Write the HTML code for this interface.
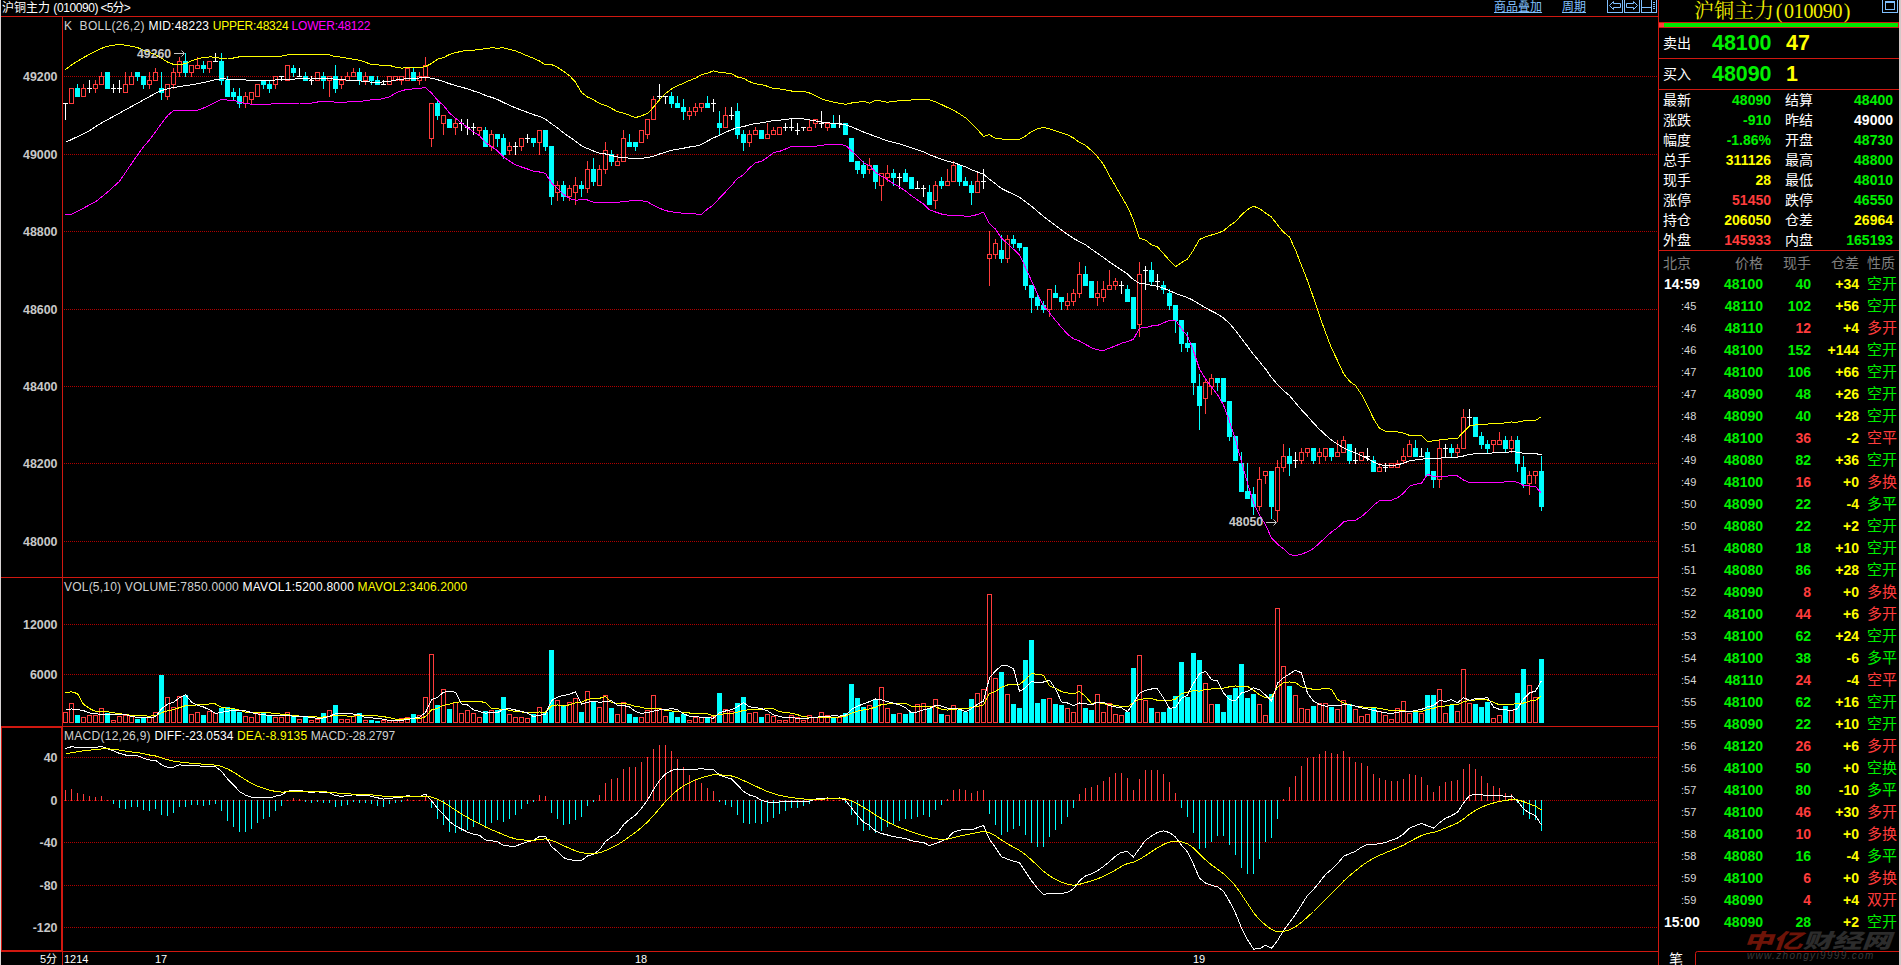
<!DOCTYPE html>
<html><head><meta charset="utf-8"><title>沪铜主力</title>
<style>
html,body{margin:0;padding:0;background:#000;}
body{width:1901px;height:965px;position:relative;overflow:hidden;font-family:"Liberation Sans","Noto Sans CJK SC",sans-serif;color:#fff;}
svg{position:absolute;left:0;top:0;}
.abs{position:absolute;white-space:nowrap;}
.ax{position:absolute;left:0;width:57.5px;text-align:right;font-weight:bold;font-size:12.4px;line-height:14px;color:#c8c8c8;}
.ind{position:absolute;left:64px;font-size:12px;line-height:14px;color:#d0d0d0;white-space:pre;transform-origin:0 0;}
.g{color:#00f000} .r{color:#ff3c3c} .y{color:#ffff00} .w{color:#fff}
.qr{position:absolute;left:1659px;width:240px;height:20px;line-height:20px;font-size:14px;}
.qr span{position:absolute;top:0;white-space:nowrap;}
.l1{left:4px;} .l2{left:126px;}
.v1{right:128px;font-weight:bold;} .v2{right:6px;font-weight:bold;}
.tr{position:absolute;left:1659px;width:242px;height:22px;line-height:22px;font-size:14px;}
.tr span{position:absolute;top:0;white-space:nowrap;}
.tb{left:5px;font-weight:bold;color:#fff;}
.ts{left:22px;font-size:11px;color:#d8d8d8;}
.pp{right:138px;font-weight:bold;}
.vv{right:90px;font-weight:bold;}
.dd{right:42px;font-weight:bold;}
.qq{left:208px;font-size:15px;}
.hd span{color:#808080;font-weight:normal;font-size:14px;}
</style></head><body>
<svg width="1901" height="965" viewBox="0 0 1901 965" shape-rendering="crispEdges">
<rect x="0" y="0" width="1901" height="965" fill="#000"/>
<g>
<line x1="64" y1="76.5" x2="1658" y2="76.5" stroke="#b00000" stroke-width="1" stroke-dasharray="1 1"/>
<line x1="64" y1="154.5" x2="1658" y2="154.5" stroke="#b00000" stroke-width="1" stroke-dasharray="1 1"/>
<line x1="64" y1="231.5" x2="1658" y2="231.5" stroke="#b00000" stroke-width="1" stroke-dasharray="1 1"/>
<line x1="64" y1="309.5" x2="1658" y2="309.5" stroke="#b00000" stroke-width="1" stroke-dasharray="1 1"/>
<line x1="64" y1="386.5" x2="1658" y2="386.5" stroke="#b00000" stroke-width="1" stroke-dasharray="1 1"/>
<line x1="64" y1="463.5" x2="1658" y2="463.5" stroke="#b00000" stroke-width="1" stroke-dasharray="1 1"/>
<line x1="64" y1="541.5" x2="1658" y2="541.5" stroke="#b00000" stroke-width="1" stroke-dasharray="1 1"/>
<line x1="64" y1="624.5" x2="1658" y2="624.5" stroke="#b00000" stroke-width="1" stroke-dasharray="1 1"/>
<line x1="64" y1="674.5" x2="1658" y2="674.5" stroke="#b00000" stroke-width="1" stroke-dasharray="1 1"/>
<line x1="64" y1="757.5" x2="1658" y2="757.5" stroke="#b00000" stroke-width="1" stroke-dasharray="1 1"/>
<line x1="64" y1="800.5" x2="1658" y2="800.5" stroke="#b00000" stroke-width="1" stroke-dasharray="1 1"/>
<line x1="64" y1="842.5" x2="1658" y2="842.5" stroke="#b00000" stroke-width="1" stroke-dasharray="1 1"/>
<line x1="64" y1="885.5" x2="1658" y2="885.5" stroke="#b00000" stroke-width="1" stroke-dasharray="1 1"/>
<line x1="64" y1="927.5" x2="1658" y2="927.5" stroke="#b00000" stroke-width="1" stroke-dasharray="1 1"/>
<rect x="65" y="103" width="1" height="17" fill="#ffffff"/>
<rect x="63" y="103" width="5" height="1" fill="#ffffff"/>
<rect x="69.5" y="88.5" width="4" height="15" fill="#000" stroke="#ff3c3c" stroke-width="1"/>
<rect x="77" y="84" width="1" height="13" fill="#00ffff"/>
<rect x="75" y="88" width="5" height="9" fill="#00ffff"/>
<rect x="83" y="84" width="1" height="4" fill="#ff3c3c"/>
<rect x="81.5" y="88.5" width="4" height="8" fill="#000" stroke="#ff3c3c" stroke-width="1"/>
<rect x="89" y="80" width="1" height="13" fill="#ffffff"/>
<rect x="87" y="88" width="5" height="1" fill="#ffffff"/>
<rect x="95" y="80" width="1" height="4" fill="#ff3c3c"/>
<rect x="95" y="89" width="1" height="4" fill="#ff3c3c"/>
<rect x="93.5" y="84.5" width="4" height="4" fill="#000" stroke="#ff3c3c" stroke-width="1"/>
<rect x="101" y="72" width="1" height="4" fill="#ff3c3c"/>
<rect x="99.5" y="76.5" width="4" height="8" fill="#000" stroke="#ff3c3c" stroke-width="1"/>
<rect x="107" y="72" width="1" height="17" fill="#00ffff"/>
<rect x="105" y="72" width="5" height="17" fill="#00ffff"/>
<rect x="113" y="84" width="1" height="9" fill="#ffffff"/>
<rect x="111" y="88" width="5" height="1" fill="#ffffff"/>
<rect x="119" y="80" width="1" height="13" fill="#ffffff"/>
<rect x="117" y="88" width="5" height="1" fill="#ffffff"/>
<rect x="125" y="72" width="1" height="12" fill="#ff3c3c"/>
<rect x="123.5" y="84.5" width="4" height="8" fill="#000" stroke="#ff3c3c" stroke-width="1"/>
<rect x="131" y="72" width="1" height="4" fill="#ff3c3c"/>
<rect x="129.5" y="76.5" width="4" height="8" fill="#000" stroke="#ff3c3c" stroke-width="1"/>
<rect x="137" y="72" width="1" height="9" fill="#00ffff"/>
<rect x="135" y="72" width="5" height="5" fill="#00ffff"/>
<rect x="143" y="76" width="1" height="13" fill="#00ffff"/>
<rect x="141" y="76" width="5" height="9" fill="#00ffff"/>
<rect x="149" y="72" width="1" height="8" fill="#ff3c3c"/>
<rect x="149" y="85" width="1" height="4" fill="#ff3c3c"/>
<rect x="147.5" y="80.5" width="4" height="4" fill="#000" stroke="#ff3c3c" stroke-width="1"/>
<rect x="155" y="68" width="1" height="4" fill="#ff3c3c"/>
<rect x="153.5" y="72.5" width="4" height="8" fill="#000" stroke="#ff3c3c" stroke-width="1"/>
<rect x="161" y="72" width="1" height="28" fill="#00ffff"/>
<rect x="159" y="88" width="5" height="5" fill="#00ffff"/>
<rect x="167" y="97" width="1" height="3" fill="#ff3c3c"/>
<rect x="165.5" y="84.5" width="4" height="12" fill="#000" stroke="#ff3c3c" stroke-width="1"/>
<rect x="173" y="68" width="1" height="4" fill="#ff3c3c"/>
<rect x="173" y="85" width="1" height="4" fill="#ff3c3c"/>
<rect x="171.5" y="72.5" width="4" height="12" fill="#000" stroke="#ff3c3c" stroke-width="1"/>
<rect x="179" y="57" width="1" height="4" fill="#ff3c3c"/>
<rect x="179" y="73" width="1" height="4" fill="#ff3c3c"/>
<rect x="177.5" y="61.5" width="4" height="11" fill="#000" stroke="#ff3c3c" stroke-width="1"/>
<rect x="185" y="53" width="1" height="24" fill="#00ffff"/>
<rect x="183" y="61" width="5" height="12" fill="#00ffff"/>
<rect x="191" y="73" width="1" height="4" fill="#ff3c3c"/>
<rect x="189.5" y="65.5" width="4" height="7" fill="#000" stroke="#ff3c3c" stroke-width="1"/>
<rect x="197" y="57" width="1" height="8" fill="#ff3c3c"/>
<rect x="195.5" y="65.5" width="4" height="3" fill="#000" stroke="#ff3c3c" stroke-width="1"/>
<rect x="203" y="61" width="1" height="12" fill="#00ffff"/>
<rect x="201" y="65" width="5" height="4" fill="#00ffff"/>
<rect x="209" y="69" width="1" height="4" fill="#ff3c3c"/>
<rect x="207.5" y="61.5" width="4" height="7" fill="#000" stroke="#ff3c3c" stroke-width="1"/>
<rect x="215" y="53" width="1" height="9" fill="#ffffff"/>
<rect x="213" y="61" width="5" height="1" fill="#ffffff"/>
<rect x="221" y="53" width="1" height="32" fill="#00ffff"/>
<rect x="219" y="61" width="5" height="20" fill="#00ffff"/>
<rect x="227" y="76" width="1" height="21" fill="#00ffff"/>
<rect x="225" y="80" width="5" height="17" fill="#00ffff"/>
<rect x="233" y="88" width="1" height="12" fill="#00ffff"/>
<rect x="231" y="92" width="5" height="5" fill="#00ffff"/>
<rect x="239" y="88" width="1" height="20" fill="#00ffff"/>
<rect x="237" y="96" width="5" height="8" fill="#00ffff"/>
<rect x="245" y="92" width="1" height="4" fill="#ff3c3c"/>
<rect x="245" y="104" width="1" height="4" fill="#ff3c3c"/>
<rect x="243.5" y="96.5" width="4" height="7" fill="#000" stroke="#ff3c3c" stroke-width="1"/>
<rect x="251" y="100" width="1" height="4" fill="#ff3c3c"/>
<rect x="249.5" y="92.5" width="4" height="7" fill="#000" stroke="#ff3c3c" stroke-width="1"/>
<rect x="255.5" y="84.5" width="4" height="12" fill="#000" stroke="#ff3c3c" stroke-width="1"/>
<rect x="263" y="80" width="1" height="9" fill="#00ffff"/>
<rect x="261" y="80" width="5" height="5" fill="#00ffff"/>
<rect x="269" y="80" width="1" height="13" fill="#00ffff"/>
<rect x="267" y="84" width="5" height="5" fill="#00ffff"/>
<rect x="275" y="85" width="1" height="4" fill="#ff3c3c"/>
<rect x="273.5" y="76.5" width="4" height="8" fill="#000" stroke="#ff3c3c" stroke-width="1"/>
<rect x="281" y="76" width="1" height="5" fill="#ffffff"/>
<rect x="279" y="76" width="5" height="1" fill="#ffffff"/>
<rect x="285.5" y="65.5" width="4" height="15" fill="#000" stroke="#ff3c3c" stroke-width="1"/>
<rect x="293" y="65" width="1" height="12" fill="#00ffff"/>
<rect x="291" y="68" width="5" height="5" fill="#00ffff"/>
<rect x="299" y="68" width="1" height="9" fill="#ffffff"/>
<rect x="297" y="76" width="5" height="1" fill="#ffffff"/>
<rect x="305" y="72" width="1" height="9" fill="#00ffff"/>
<rect x="303" y="76" width="5" height="5" fill="#00ffff"/>
<rect x="311" y="76" width="1" height="9" fill="#ffffff"/>
<rect x="309" y="80" width="5" height="1" fill="#ffffff"/>
<rect x="315.5" y="72.5" width="4" height="8" fill="#000" stroke="#ff3c3c" stroke-width="1"/>
<rect x="323" y="72" width="1" height="17" fill="#00ffff"/>
<rect x="321" y="76" width="5" height="5" fill="#00ffff"/>
<rect x="329" y="81" width="1" height="16" fill="#ff3c3c"/>
<rect x="327.5" y="76.5" width="4" height="4" fill="#000" stroke="#ff3c3c" stroke-width="1"/>
<rect x="335" y="65" width="1" height="28" fill="#00ffff"/>
<rect x="333" y="76" width="5" height="13" fill="#00ffff"/>
<rect x="341" y="76" width="1" height="4" fill="#ff3c3c"/>
<rect x="341" y="85" width="1" height="4" fill="#ff3c3c"/>
<rect x="339.5" y="80.5" width="4" height="4" fill="#000" stroke="#ff3c3c" stroke-width="1"/>
<rect x="347" y="72" width="1" height="4" fill="#ff3c3c"/>
<rect x="345.5" y="76.5" width="4" height="4" fill="#000" stroke="#ff3c3c" stroke-width="1"/>
<rect x="353" y="68" width="1" height="4" fill="#ff3c3c"/>
<rect x="351.5" y="72.5" width="4" height="4" fill="#000" stroke="#ff3c3c" stroke-width="1"/>
<rect x="359" y="68" width="1" height="17" fill="#00ffff"/>
<rect x="357" y="72" width="5" height="9" fill="#00ffff"/>
<rect x="365" y="72" width="1" height="4" fill="#ff3c3c"/>
<rect x="365" y="81" width="1" height="4" fill="#ff3c3c"/>
<rect x="363.5" y="76.5" width="4" height="4" fill="#000" stroke="#ff3c3c" stroke-width="1"/>
<rect x="371" y="76" width="1" height="9" fill="#00ffff"/>
<rect x="369" y="76" width="5" height="5" fill="#00ffff"/>
<rect x="377" y="76" width="1" height="9" fill="#00ffff"/>
<rect x="375" y="80" width="5" height="5" fill="#00ffff"/>
<rect x="383" y="80" width="1" height="5" fill="#ffffff"/>
<rect x="381" y="84" width="5" height="1" fill="#ffffff"/>
<rect x="387.5" y="76.5" width="4" height="8" fill="#000" stroke="#ff3c3c" stroke-width="1"/>
<rect x="393.5" y="76.5" width="4" height="4" fill="#000" stroke="#ff3c3c" stroke-width="1"/>
<rect x="401" y="81" width="1" height="4" fill="#ff3c3c"/>
<rect x="399.5" y="76.5" width="4" height="4" fill="#000" stroke="#ff3c3c" stroke-width="1"/>
<rect x="405.5" y="68.5" width="4" height="12" fill="#000" stroke="#ff3c3c" stroke-width="1"/>
<rect x="413" y="68" width="1" height="13" fill="#00ffff"/>
<rect x="411" y="72" width="5" height="9" fill="#00ffff"/>
<rect x="419" y="72" width="1" height="4" fill="#ff3c3c"/>
<rect x="419" y="81" width="1" height="4" fill="#ff3c3c"/>
<rect x="417.5" y="76.5" width="4" height="4" fill="#000" stroke="#ff3c3c" stroke-width="1"/>
<rect x="425" y="57" width="1" height="8" fill="#ff3c3c"/>
<rect x="425" y="77" width="1" height="4" fill="#ff3c3c"/>
<rect x="423.5" y="65.5" width="4" height="11" fill="#000" stroke="#ff3c3c" stroke-width="1"/>
<rect x="431" y="139" width="1" height="8" fill="#ff3c3c"/>
<rect x="429.5" y="103.5" width="4" height="35" fill="#000" stroke="#ff3c3c" stroke-width="1"/>
<rect x="437" y="99" width="1" height="21" fill="#00ffff"/>
<rect x="435" y="103" width="5" height="13" fill="#00ffff"/>
<rect x="443" y="124" width="1" height="11" fill="#ff3c3c"/>
<rect x="441.5" y="115.5" width="4" height="8" fill="#000" stroke="#ff3c3c" stroke-width="1"/>
<rect x="449" y="119" width="1" height="9" fill="#00ffff"/>
<rect x="447" y="119" width="5" height="9" fill="#00ffff"/>
<rect x="455" y="119" width="1" height="4" fill="#ff3c3c"/>
<rect x="455" y="128" width="1" height="7" fill="#ff3c3c"/>
<rect x="453.5" y="123.5" width="4" height="4" fill="#000" stroke="#ff3c3c" stroke-width="1"/>
<rect x="461" y="119" width="1" height="12" fill="#ffffff"/>
<rect x="459" y="123" width="5" height="1" fill="#ffffff"/>
<rect x="467" y="119" width="1" height="16" fill="#ffffff"/>
<rect x="465" y="127" width="5" height="1" fill="#ffffff"/>
<rect x="473" y="123" width="1" height="12" fill="#ffffff"/>
<rect x="471" y="127" width="5" height="1" fill="#ffffff"/>
<rect x="479" y="131" width="1" height="4" fill="#ff3c3c"/>
<rect x="477.5" y="127.5" width="4" height="3" fill="#000" stroke="#ff3c3c" stroke-width="1"/>
<rect x="485" y="127" width="1" height="20" fill="#00ffff"/>
<rect x="483" y="130" width="5" height="17" fill="#00ffff"/>
<rect x="491" y="130" width="1" height="4" fill="#ff3c3c"/>
<rect x="491" y="147" width="1" height="4" fill="#ff3c3c"/>
<rect x="489.5" y="134.5" width="4" height="12" fill="#000" stroke="#ff3c3c" stroke-width="1"/>
<rect x="497" y="134" width="1" height="13" fill="#00ffff"/>
<rect x="495" y="134" width="5" height="5" fill="#00ffff"/>
<rect x="503" y="134" width="1" height="25" fill="#00ffff"/>
<rect x="501" y="138" width="5" height="17" fill="#00ffff"/>
<rect x="509" y="142" width="1" height="4" fill="#ff3c3c"/>
<rect x="509" y="151" width="1" height="4" fill="#ff3c3c"/>
<rect x="507.5" y="146.5" width="4" height="4" fill="#000" stroke="#ff3c3c" stroke-width="1"/>
<rect x="515" y="142" width="1" height="13" fill="#ffffff"/>
<rect x="513" y="146" width="5" height="1" fill="#ffffff"/>
<rect x="521" y="147" width="1" height="4" fill="#ff3c3c"/>
<rect x="519.5" y="138.5" width="4" height="8" fill="#000" stroke="#ff3c3c" stroke-width="1"/>
<rect x="527" y="134" width="1" height="9" fill="#ffffff"/>
<rect x="525" y="138" width="5" height="1" fill="#ffffff"/>
<rect x="533" y="138" width="1" height="9" fill="#00ffff"/>
<rect x="531" y="138" width="5" height="5" fill="#00ffff"/>
<rect x="539" y="143" width="1" height="12" fill="#ff3c3c"/>
<rect x="537.5" y="130.5" width="4" height="12" fill="#000" stroke="#ff3c3c" stroke-width="1"/>
<rect x="545" y="130" width="1" height="21" fill="#00ffff"/>
<rect x="543" y="130" width="5" height="17" fill="#00ffff"/>
<rect x="551" y="146" width="1" height="59" fill="#00ffff"/>
<rect x="549" y="146" width="5" height="51" fill="#00ffff"/>
<rect x="557" y="181" width="1" height="4" fill="#ff3c3c"/>
<rect x="557" y="193" width="1" height="8" fill="#ff3c3c"/>
<rect x="555.5" y="185.5" width="4" height="7" fill="#000" stroke="#ff3c3c" stroke-width="1"/>
<rect x="563" y="181" width="1" height="20" fill="#00ffff"/>
<rect x="561" y="185" width="5" height="12" fill="#00ffff"/>
<rect x="569" y="185" width="1" height="3" fill="#ff3c3c"/>
<rect x="569" y="197" width="1" height="4" fill="#ff3c3c"/>
<rect x="567.5" y="188.5" width="4" height="8" fill="#000" stroke="#ff3c3c" stroke-width="1"/>
<rect x="575" y="177" width="1" height="8" fill="#ff3c3c"/>
<rect x="575" y="193" width="1" height="12" fill="#ff3c3c"/>
<rect x="573.5" y="185.5" width="4" height="7" fill="#000" stroke="#ff3c3c" stroke-width="1"/>
<rect x="581" y="181" width="1" height="16" fill="#00ffff"/>
<rect x="579" y="185" width="5" height="4" fill="#00ffff"/>
<rect x="587" y="161" width="1" height="8" fill="#ff3c3c"/>
<rect x="587" y="189" width="1" height="4" fill="#ff3c3c"/>
<rect x="585.5" y="169.5" width="4" height="19" fill="#000" stroke="#ff3c3c" stroke-width="1"/>
<rect x="593" y="158" width="1" height="28" fill="#00ffff"/>
<rect x="591" y="169" width="5" height="13" fill="#00ffff"/>
<rect x="599" y="165" width="1" height="4" fill="#ff3c3c"/>
<rect x="597.5" y="169.5" width="4" height="16" fill="#000" stroke="#ff3c3c" stroke-width="1"/>
<rect x="605" y="142" width="1" height="8" fill="#ff3c3c"/>
<rect x="605" y="170" width="1" height="4" fill="#ff3c3c"/>
<rect x="603.5" y="150.5" width="4" height="19" fill="#000" stroke="#ff3c3c" stroke-width="1"/>
<rect x="611" y="150" width="1" height="16" fill="#00ffff"/>
<rect x="609" y="154" width="5" height="8" fill="#00ffff"/>
<rect x="617" y="154" width="1" height="7" fill="#ff3c3c"/>
<rect x="615.5" y="161.5" width="4" height="4" fill="#000" stroke="#ff3c3c" stroke-width="1"/>
<rect x="623" y="130" width="1" height="8" fill="#ff3c3c"/>
<rect x="621.5" y="138.5" width="4" height="23" fill="#000" stroke="#ff3c3c" stroke-width="1"/>
<rect x="629" y="134" width="1" height="13" fill="#00ffff"/>
<rect x="627" y="142" width="5" height="5" fill="#00ffff"/>
<rect x="635" y="142" width="1" height="9" fill="#00ffff"/>
<rect x="633" y="142" width="5" height="5" fill="#00ffff"/>
<rect x="639.5" y="130.5" width="4" height="12" fill="#000" stroke="#ff3c3c" stroke-width="1"/>
<rect x="647" y="135" width="1" height="4" fill="#ff3c3c"/>
<rect x="645.5" y="119.5" width="4" height="15" fill="#000" stroke="#ff3c3c" stroke-width="1"/>
<rect x="653" y="96" width="1" height="3" fill="#ff3c3c"/>
<rect x="651.5" y="99.5" width="4" height="20" fill="#000" stroke="#ff3c3c" stroke-width="1"/>
<rect x="659" y="84" width="1" height="16" fill="#ffffff"/>
<rect x="657" y="96" width="5" height="1" fill="#ffffff"/>
<rect x="665" y="96" width="1" height="8" fill="#ffffff"/>
<rect x="663" y="96" width="5" height="1" fill="#ffffff"/>
<rect x="671" y="92" width="1" height="16" fill="#00ffff"/>
<rect x="669" y="96" width="5" height="8" fill="#00ffff"/>
<rect x="677" y="96" width="1" height="12" fill="#00ffff"/>
<rect x="675" y="103" width="5" height="5" fill="#00ffff"/>
<rect x="683" y="99" width="1" height="21" fill="#00ffff"/>
<rect x="681" y="107" width="5" height="5" fill="#00ffff"/>
<rect x="689" y="107" width="1" height="4" fill="#ff3c3c"/>
<rect x="689" y="116" width="1" height="4" fill="#ff3c3c"/>
<rect x="687.5" y="111.5" width="4" height="4" fill="#000" stroke="#ff3c3c" stroke-width="1"/>
<rect x="695" y="103" width="1" height="4" fill="#ff3c3c"/>
<rect x="695" y="112" width="1" height="4" fill="#ff3c3c"/>
<rect x="693.5" y="107.5" width="4" height="4" fill="#000" stroke="#ff3c3c" stroke-width="1"/>
<rect x="701" y="108" width="1" height="4" fill="#ff3c3c"/>
<rect x="699.5" y="103.5" width="4" height="4" fill="#000" stroke="#ff3c3c" stroke-width="1"/>
<rect x="707" y="96" width="1" height="12" fill="#00ffff"/>
<rect x="705" y="103" width="5" height="5" fill="#00ffff"/>
<rect x="713" y="99" width="1" height="13" fill="#ffffff"/>
<rect x="711" y="103" width="5" height="1" fill="#ffffff"/>
<rect x="719" y="111" width="1" height="24" fill="#00ffff"/>
<rect x="717" y="123" width="5" height="5" fill="#00ffff"/>
<rect x="725" y="107" width="1" height="8" fill="#ff3c3c"/>
<rect x="723.5" y="115.5" width="4" height="12" fill="#000" stroke="#ff3c3c" stroke-width="1"/>
<rect x="731" y="107" width="1" height="13" fill="#ffffff"/>
<rect x="729" y="115" width="5" height="1" fill="#ffffff"/>
<rect x="737" y="103" width="1" height="36" fill="#00ffff"/>
<rect x="735" y="111" width="5" height="24" fill="#00ffff"/>
<rect x="743" y="130" width="1" height="21" fill="#00ffff"/>
<rect x="741" y="134" width="5" height="9" fill="#00ffff"/>
<rect x="749" y="130" width="1" height="4" fill="#ff3c3c"/>
<rect x="749" y="143" width="1" height="4" fill="#ff3c3c"/>
<rect x="747.5" y="134.5" width="4" height="8" fill="#000" stroke="#ff3c3c" stroke-width="1"/>
<rect x="755" y="127" width="1" height="3" fill="#ff3c3c"/>
<rect x="753.5" y="130.5" width="4" height="4" fill="#000" stroke="#ff3c3c" stroke-width="1"/>
<rect x="761" y="130" width="1" height="9" fill="#00ffff"/>
<rect x="759" y="130" width="5" height="9" fill="#00ffff"/>
<rect x="767" y="123" width="1" height="11" fill="#ff3c3c"/>
<rect x="765.5" y="134.5" width="4" height="4" fill="#000" stroke="#ff3c3c" stroke-width="1"/>
<rect x="773" y="127" width="1" height="3" fill="#ff3c3c"/>
<rect x="771.5" y="130.5" width="4" height="4" fill="#000" stroke="#ff3c3c" stroke-width="1"/>
<rect x="777.5" y="127.5" width="4" height="7" fill="#000" stroke="#ff3c3c" stroke-width="1"/>
<rect x="785" y="123" width="1" height="8" fill="#ffffff"/>
<rect x="783" y="127" width="5" height="1" fill="#ffffff"/>
<rect x="791" y="119" width="1" height="12" fill="#ffffff"/>
<rect x="789" y="127" width="5" height="1" fill="#ffffff"/>
<rect x="797" y="123" width="1" height="12" fill="#ffffff"/>
<rect x="795" y="130" width="5" height="1" fill="#ffffff"/>
<rect x="803" y="127" width="1" height="4" fill="#ffffff"/>
<rect x="801" y="127" width="5" height="1" fill="#ffffff"/>
<rect x="809" y="119" width="1" height="8" fill="#ff3c3c"/>
<rect x="807.5" y="127.5" width="4" height="3" fill="#000" stroke="#ff3c3c" stroke-width="1"/>
<rect x="815" y="124" width="1" height="4" fill="#ff3c3c"/>
<rect x="813.5" y="119.5" width="4" height="4" fill="#000" stroke="#ff3c3c" stroke-width="1"/>
<rect x="821" y="111" width="1" height="17" fill="#ffffff"/>
<rect x="819" y="123" width="5" height="1" fill="#ffffff"/>
<rect x="827" y="128" width="1" height="3" fill="#ff3c3c"/>
<rect x="825.5" y="123.5" width="4" height="4" fill="#000" stroke="#ff3c3c" stroke-width="1"/>
<rect x="833" y="115" width="1" height="13" fill="#00ffff"/>
<rect x="831" y="123" width="5" height="5" fill="#00ffff"/>
<rect x="839" y="115" width="1" height="13" fill="#ffffff"/>
<rect x="837" y="123" width="5" height="1" fill="#ffffff"/>
<rect x="845" y="123" width="1" height="12" fill="#00ffff"/>
<rect x="843" y="123" width="5" height="12" fill="#00ffff"/>
<rect x="851" y="138" width="1" height="24" fill="#00ffff"/>
<rect x="849" y="138" width="5" height="24" fill="#00ffff"/>
<rect x="857" y="161" width="1" height="13" fill="#00ffff"/>
<rect x="855" y="161" width="5" height="9" fill="#00ffff"/>
<rect x="863" y="161" width="1" height="17" fill="#00ffff"/>
<rect x="861" y="165" width="5" height="9" fill="#00ffff"/>
<rect x="869" y="158" width="1" height="7" fill="#ff3c3c"/>
<rect x="869" y="170" width="1" height="4" fill="#ff3c3c"/>
<rect x="867.5" y="165.5" width="4" height="4" fill="#000" stroke="#ff3c3c" stroke-width="1"/>
<rect x="875" y="165" width="1" height="24" fill="#00ffff"/>
<rect x="873" y="165" width="5" height="17" fill="#00ffff"/>
<rect x="881" y="186" width="1" height="15" fill="#ff3c3c"/>
<rect x="879.5" y="173.5" width="4" height="12" fill="#000" stroke="#ff3c3c" stroke-width="1"/>
<rect x="887" y="165" width="1" height="8" fill="#ff3c3c"/>
<rect x="887" y="178" width="1" height="4" fill="#ff3c3c"/>
<rect x="885.5" y="173.5" width="4" height="4" fill="#000" stroke="#ff3c3c" stroke-width="1"/>
<rect x="893" y="169" width="1" height="17" fill="#00ffff"/>
<rect x="891" y="173" width="5" height="5" fill="#00ffff"/>
<rect x="899" y="173" width="1" height="16" fill="#ffffff"/>
<rect x="897" y="177" width="5" height="1" fill="#ffffff"/>
<rect x="905" y="169" width="1" height="13" fill="#00ffff"/>
<rect x="903" y="173" width="5" height="9" fill="#00ffff"/>
<rect x="911" y="177" width="1" height="12" fill="#00ffff"/>
<rect x="909" y="177" width="5" height="12" fill="#00ffff"/>
<rect x="917" y="181" width="1" height="8" fill="#ffffff"/>
<rect x="915" y="188" width="5" height="1" fill="#ffffff"/>
<rect x="923" y="185" width="1" height="12" fill="#ffffff"/>
<rect x="921" y="188" width="5" height="1" fill="#ffffff"/>
<rect x="929" y="185" width="1" height="20" fill="#00ffff"/>
<rect x="927" y="192" width="5" height="13" fill="#00ffff"/>
<rect x="935" y="181" width="1" height="4" fill="#ff3c3c"/>
<rect x="935" y="201" width="1" height="8" fill="#ff3c3c"/>
<rect x="933.5" y="185.5" width="4" height="15" fill="#000" stroke="#ff3c3c" stroke-width="1"/>
<rect x="941" y="177" width="1" height="12" fill="#00ffff"/>
<rect x="939" y="181" width="5" height="5" fill="#00ffff"/>
<rect x="947" y="169" width="1" height="12" fill="#ff3c3c"/>
<rect x="945.5" y="181.5" width="4" height="4" fill="#000" stroke="#ff3c3c" stroke-width="1"/>
<rect x="953" y="161" width="1" height="4" fill="#ff3c3c"/>
<rect x="951.5" y="165.5" width="4" height="16" fill="#000" stroke="#ff3c3c" stroke-width="1"/>
<rect x="959" y="165" width="1" height="21" fill="#00ffff"/>
<rect x="957" y="165" width="5" height="17" fill="#00ffff"/>
<rect x="965" y="177" width="1" height="9" fill="#00ffff"/>
<rect x="963" y="181" width="5" height="5" fill="#00ffff"/>
<rect x="971" y="181" width="1" height="24" fill="#00ffff"/>
<rect x="969" y="185" width="5" height="8" fill="#00ffff"/>
<rect x="977" y="173" width="1" height="8" fill="#ff3c3c"/>
<rect x="975.5" y="181.5" width="4" height="11" fill="#000" stroke="#ff3c3c" stroke-width="1"/>
<rect x="983" y="169" width="1" height="20" fill="#ffffff"/>
<rect x="981" y="181" width="5" height="1" fill="#ffffff"/>
<rect x="989" y="231" width="1" height="23" fill="#ff3c3c"/>
<rect x="989" y="259" width="1" height="27" fill="#ff3c3c"/>
<rect x="987.5" y="254.5" width="4" height="4" fill="#000" stroke="#ff3c3c" stroke-width="1"/>
<rect x="995" y="239" width="1" height="4" fill="#ff3c3c"/>
<rect x="995" y="255" width="1" height="4" fill="#ff3c3c"/>
<rect x="993.5" y="243.5" width="4" height="11" fill="#000" stroke="#ff3c3c" stroke-width="1"/>
<rect x="1001" y="235" width="1" height="28" fill="#00ffff"/>
<rect x="999" y="250" width="5" height="9" fill="#00ffff"/>
<rect x="1007" y="235" width="1" height="4" fill="#ff3c3c"/>
<rect x="1007" y="259" width="1" height="4" fill="#ff3c3c"/>
<rect x="1005.5" y="239.5" width="4" height="19" fill="#000" stroke="#ff3c3c" stroke-width="1"/>
<rect x="1013" y="235" width="1" height="13" fill="#00ffff"/>
<rect x="1011" y="239" width="5" height="5" fill="#00ffff"/>
<rect x="1019" y="243" width="1" height="8" fill="#00ffff"/>
<rect x="1017" y="243" width="5" height="5" fill="#00ffff"/>
<rect x="1025" y="247" width="1" height="43" fill="#00ffff"/>
<rect x="1023" y="247" width="5" height="39" fill="#00ffff"/>
<rect x="1031" y="285" width="1" height="28" fill="#00ffff"/>
<rect x="1029" y="285" width="5" height="13" fill="#00ffff"/>
<rect x="1037" y="293" width="1" height="17" fill="#00ffff"/>
<rect x="1035" y="297" width="5" height="9" fill="#00ffff"/>
<rect x="1043" y="301" width="1" height="12" fill="#00ffff"/>
<rect x="1041" y="305" width="5" height="5" fill="#00ffff"/>
<rect x="1049" y="310" width="1" height="7" fill="#ff3c3c"/>
<rect x="1047.5" y="289.5" width="4" height="20" fill="#000" stroke="#ff3c3c" stroke-width="1"/>
<rect x="1055" y="285" width="1" height="13" fill="#00ffff"/>
<rect x="1053" y="293" width="5" height="5" fill="#00ffff"/>
<rect x="1061" y="297" width="1" height="13" fill="#00ffff"/>
<rect x="1059" y="297" width="5" height="5" fill="#00ffff"/>
<rect x="1067" y="293" width="1" height="8" fill="#ff3c3c"/>
<rect x="1067" y="306" width="1" height="4" fill="#ff3c3c"/>
<rect x="1065.5" y="301.5" width="4" height="4" fill="#000" stroke="#ff3c3c" stroke-width="1"/>
<rect x="1073" y="289" width="1" height="4" fill="#ff3c3c"/>
<rect x="1073" y="302" width="1" height="4" fill="#ff3c3c"/>
<rect x="1071.5" y="293.5" width="4" height="8" fill="#000" stroke="#ff3c3c" stroke-width="1"/>
<rect x="1079" y="262" width="1" height="12" fill="#ff3c3c"/>
<rect x="1079" y="294" width="1" height="4" fill="#ff3c3c"/>
<rect x="1077.5" y="274.5" width="4" height="19" fill="#000" stroke="#ff3c3c" stroke-width="1"/>
<rect x="1085" y="266" width="1" height="20" fill="#00ffff"/>
<rect x="1083" y="274" width="5" height="12" fill="#00ffff"/>
<rect x="1091" y="281" width="1" height="17" fill="#00ffff"/>
<rect x="1089" y="281" width="5" height="17" fill="#00ffff"/>
<rect x="1097" y="281" width="1" height="12" fill="#ff3c3c"/>
<rect x="1097" y="298" width="1" height="8" fill="#ff3c3c"/>
<rect x="1095.5" y="293.5" width="4" height="4" fill="#000" stroke="#ff3c3c" stroke-width="1"/>
<rect x="1103" y="281" width="1" height="8" fill="#ff3c3c"/>
<rect x="1103" y="298" width="1" height="4" fill="#ff3c3c"/>
<rect x="1101.5" y="289.5" width="4" height="8" fill="#000" stroke="#ff3c3c" stroke-width="1"/>
<rect x="1109" y="270" width="1" height="15" fill="#ff3c3c"/>
<rect x="1107.5" y="285.5" width="4" height="4" fill="#000" stroke="#ff3c3c" stroke-width="1"/>
<rect x="1115" y="278" width="1" height="3" fill="#ff3c3c"/>
<rect x="1115" y="286" width="1" height="4" fill="#ff3c3c"/>
<rect x="1113.5" y="281.5" width="4" height="4" fill="#000" stroke="#ff3c3c" stroke-width="1"/>
<rect x="1121" y="281" width="1" height="13" fill="#ffffff"/>
<rect x="1119" y="285" width="5" height="1" fill="#ffffff"/>
<rect x="1127" y="285" width="1" height="17" fill="#00ffff"/>
<rect x="1125" y="289" width="5" height="13" fill="#00ffff"/>
<rect x="1133" y="297" width="1" height="32" fill="#00ffff"/>
<rect x="1131" y="297" width="5" height="32" fill="#00ffff"/>
<rect x="1139" y="262" width="1" height="12" fill="#ff3c3c"/>
<rect x="1139" y="325" width="1" height="12" fill="#ff3c3c"/>
<rect x="1137.5" y="274.5" width="4" height="50" fill="#000" stroke="#ff3c3c" stroke-width="1"/>
<rect x="1145" y="266" width="1" height="24" fill="#ffffff"/>
<rect x="1143" y="270" width="5" height="1" fill="#ffffff"/>
<rect x="1151" y="262" width="1" height="24" fill="#00ffff"/>
<rect x="1149" y="270" width="5" height="12" fill="#00ffff"/>
<rect x="1157" y="274" width="1" height="16" fill="#ffffff"/>
<rect x="1155" y="281" width="5" height="1" fill="#ffffff"/>
<rect x="1163" y="281" width="1" height="13" fill="#00ffff"/>
<rect x="1161" y="285" width="5" height="5" fill="#00ffff"/>
<rect x="1169" y="289" width="1" height="21" fill="#00ffff"/>
<rect x="1167" y="293" width="5" height="13" fill="#00ffff"/>
<rect x="1175" y="305" width="1" height="28" fill="#00ffff"/>
<rect x="1173" y="305" width="5" height="16" fill="#00ffff"/>
<rect x="1181" y="320" width="1" height="32" fill="#00ffff"/>
<rect x="1179" y="320" width="5" height="24" fill="#00ffff"/>
<rect x="1187" y="332" width="1" height="20" fill="#00ffff"/>
<rect x="1185" y="343" width="5" height="5" fill="#00ffff"/>
<rect x="1193" y="343" width="1" height="52" fill="#00ffff"/>
<rect x="1191" y="343" width="5" height="40" fill="#00ffff"/>
<rect x="1199" y="374" width="1" height="56" fill="#00ffff"/>
<rect x="1197" y="386" width="5" height="20" fill="#00ffff"/>
<rect x="1205" y="378" width="1" height="4" fill="#ff3c3c"/>
<rect x="1205" y="399" width="1" height="15" fill="#ff3c3c"/>
<rect x="1203.5" y="382.5" width="4" height="16" fill="#000" stroke="#ff3c3c" stroke-width="1"/>
<rect x="1211" y="374" width="1" height="4" fill="#ff3c3c"/>
<rect x="1211" y="387" width="1" height="8" fill="#ff3c3c"/>
<rect x="1209.5" y="378.5" width="4" height="8" fill="#000" stroke="#ff3c3c" stroke-width="1"/>
<rect x="1217" y="378" width="1" height="13" fill="#00ffff"/>
<rect x="1215" y="378" width="5" height="5" fill="#00ffff"/>
<rect x="1223" y="378" width="1" height="24" fill="#00ffff"/>
<rect x="1221" y="378" width="5" height="24" fill="#00ffff"/>
<rect x="1229" y="401" width="1" height="40" fill="#00ffff"/>
<rect x="1227" y="401" width="5" height="36" fill="#00ffff"/>
<rect x="1235" y="436" width="1" height="25" fill="#00ffff"/>
<rect x="1233" y="436" width="5" height="25" fill="#00ffff"/>
<rect x="1241" y="452" width="1" height="40" fill="#00ffff"/>
<rect x="1239" y="463" width="5" height="29" fill="#00ffff"/>
<rect x="1247" y="463" width="1" height="36" fill="#00ffff"/>
<rect x="1245" y="491" width="5" height="8" fill="#00ffff"/>
<rect x="1253" y="487" width="1" height="28" fill="#00ffff"/>
<rect x="1251" y="494" width="5" height="13" fill="#00ffff"/>
<rect x="1259" y="467" width="1" height="12" fill="#ff3c3c"/>
<rect x="1259" y="507" width="1" height="4" fill="#ff3c3c"/>
<rect x="1257.5" y="479.5" width="4" height="27" fill="#000" stroke="#ff3c3c" stroke-width="1"/>
<rect x="1265" y="476" width="1" height="8" fill="#ff3c3c"/>
<rect x="1263.5" y="471.5" width="4" height="4" fill="#000" stroke="#ff3c3c" stroke-width="1"/>
<rect x="1271" y="471" width="1" height="48" fill="#00ffff"/>
<rect x="1269" y="471" width="5" height="36" fill="#00ffff"/>
<rect x="1277" y="460" width="1" height="7" fill="#ff3c3c"/>
<rect x="1277" y="511" width="1" height="11" fill="#ff3c3c"/>
<rect x="1275.5" y="467.5" width="4" height="43" fill="#000" stroke="#ff3c3c" stroke-width="1"/>
<rect x="1283" y="444" width="1" height="12" fill="#ff3c3c"/>
<rect x="1283" y="468" width="1" height="4" fill="#ff3c3c"/>
<rect x="1281.5" y="456.5" width="4" height="11" fill="#000" stroke="#ff3c3c" stroke-width="1"/>
<rect x="1289" y="448" width="1" height="28" fill="#00ffff"/>
<rect x="1287" y="456" width="5" height="8" fill="#00ffff"/>
<rect x="1295" y="452" width="1" height="16" fill="#ffffff"/>
<rect x="1293" y="460" width="5" height="1" fill="#ffffff"/>
<rect x="1301" y="448" width="1" height="4" fill="#ff3c3c"/>
<rect x="1301" y="461" width="1" height="3" fill="#ff3c3c"/>
<rect x="1299.5" y="452.5" width="4" height="8" fill="#000" stroke="#ff3c3c" stroke-width="1"/>
<rect x="1307" y="453" width="1" height="4" fill="#ff3c3c"/>
<rect x="1305.5" y="448.5" width="4" height="4" fill="#000" stroke="#ff3c3c" stroke-width="1"/>
<rect x="1313" y="448" width="1" height="16" fill="#00ffff"/>
<rect x="1311" y="448" width="5" height="13" fill="#00ffff"/>
<rect x="1319" y="448" width="1" height="4" fill="#ff3c3c"/>
<rect x="1319" y="457" width="1" height="7" fill="#ff3c3c"/>
<rect x="1317.5" y="452.5" width="4" height="4" fill="#000" stroke="#ff3c3c" stroke-width="1"/>
<rect x="1325" y="457" width="1" height="4" fill="#ff3c3c"/>
<rect x="1323.5" y="448.5" width="4" height="8" fill="#000" stroke="#ff3c3c" stroke-width="1"/>
<rect x="1331" y="448" width="1" height="13" fill="#00ffff"/>
<rect x="1329" y="448" width="5" height="9" fill="#00ffff"/>
<rect x="1337" y="440" width="1" height="12" fill="#ff3c3c"/>
<rect x="1335.5" y="452.5" width="4" height="4" fill="#000" stroke="#ff3c3c" stroke-width="1"/>
<rect x="1343" y="436" width="1" height="4" fill="#ff3c3c"/>
<rect x="1341.5" y="440.5" width="4" height="12" fill="#000" stroke="#ff3c3c" stroke-width="1"/>
<rect x="1349" y="444" width="1" height="20" fill="#00ffff"/>
<rect x="1347" y="444" width="5" height="17" fill="#00ffff"/>
<rect x="1355" y="448" width="1" height="16" fill="#ffffff"/>
<rect x="1353" y="460" width="5" height="1" fill="#ffffff"/>
<rect x="1359.5" y="452.5" width="4" height="8" fill="#000" stroke="#ff3c3c" stroke-width="1"/>
<rect x="1367" y="448" width="1" height="13" fill="#ffffff"/>
<rect x="1365" y="456" width="5" height="1" fill="#ffffff"/>
<rect x="1373" y="456" width="1" height="16" fill="#00ffff"/>
<rect x="1371" y="460" width="5" height="12" fill="#00ffff"/>
<rect x="1379" y="463" width="1" height="4" fill="#ff3c3c"/>
<rect x="1377.5" y="467.5" width="4" height="4" fill="#000" stroke="#ff3c3c" stroke-width="1"/>
<rect x="1385" y="463" width="1" height="9" fill="#ffffff"/>
<rect x="1383" y="467" width="5" height="1" fill="#ffffff"/>
<rect x="1389.5" y="463.5" width="4" height="4" fill="#000" stroke="#ff3c3c" stroke-width="1"/>
<rect x="1397" y="460" width="1" height="3" fill="#ff3c3c"/>
<rect x="1395.5" y="463.5" width="4" height="4" fill="#000" stroke="#ff3c3c" stroke-width="1"/>
<rect x="1403" y="448" width="1" height="8" fill="#ff3c3c"/>
<rect x="1403" y="461" width="1" height="3" fill="#ff3c3c"/>
<rect x="1401.5" y="456.5" width="4" height="4" fill="#000" stroke="#ff3c3c" stroke-width="1"/>
<rect x="1409" y="440" width="1" height="4" fill="#ff3c3c"/>
<rect x="1407.5" y="444.5" width="4" height="12" fill="#000" stroke="#ff3c3c" stroke-width="1"/>
<rect x="1415" y="440" width="1" height="17" fill="#00ffff"/>
<rect x="1413" y="448" width="5" height="9" fill="#00ffff"/>
<rect x="1421" y="448" width="1" height="9" fill="#ffffff"/>
<rect x="1419" y="456" width="5" height="1" fill="#ffffff"/>
<rect x="1427" y="448" width="1" height="28" fill="#00ffff"/>
<rect x="1425" y="452" width="5" height="24" fill="#00ffff"/>
<rect x="1433" y="471" width="1" height="17" fill="#00ffff"/>
<rect x="1431" y="471" width="5" height="9" fill="#00ffff"/>
<rect x="1439" y="440" width="1" height="8" fill="#ff3c3c"/>
<rect x="1439" y="480" width="1" height="8" fill="#ff3c3c"/>
<rect x="1437.5" y="448.5" width="4" height="31" fill="#000" stroke="#ff3c3c" stroke-width="1"/>
<rect x="1445" y="444" width="1" height="13" fill="#ffffff"/>
<rect x="1443" y="448" width="5" height="1" fill="#ffffff"/>
<rect x="1451" y="444" width="1" height="13" fill="#00ffff"/>
<rect x="1449" y="448" width="5" height="5" fill="#00ffff"/>
<rect x="1457" y="444" width="1" height="4" fill="#ff3c3c"/>
<rect x="1457" y="453" width="1" height="4" fill="#ff3c3c"/>
<rect x="1455.5" y="448.5" width="4" height="4" fill="#000" stroke="#ff3c3c" stroke-width="1"/>
<rect x="1463" y="409" width="1" height="8" fill="#ff3c3c"/>
<rect x="1461.5" y="417.5" width="4" height="31" fill="#000" stroke="#ff3c3c" stroke-width="1"/>
<rect x="1469" y="409" width="1" height="17" fill="#ffffff"/>
<rect x="1467" y="417" width="5" height="1" fill="#ffffff"/>
<rect x="1475" y="417" width="1" height="20" fill="#00ffff"/>
<rect x="1473" y="417" width="5" height="20" fill="#00ffff"/>
<rect x="1481" y="432" width="1" height="17" fill="#00ffff"/>
<rect x="1479" y="436" width="5" height="9" fill="#00ffff"/>
<rect x="1487" y="440" width="1" height="13" fill="#00ffff"/>
<rect x="1485" y="444" width="5" height="5" fill="#00ffff"/>
<rect x="1493" y="445" width="1" height="8" fill="#ff3c3c"/>
<rect x="1491.5" y="440.5" width="4" height="4" fill="#000" stroke="#ff3c3c" stroke-width="1"/>
<rect x="1499" y="432" width="1" height="8" fill="#ff3c3c"/>
<rect x="1497.5" y="440.5" width="4" height="4" fill="#000" stroke="#ff3c3c" stroke-width="1"/>
<rect x="1505" y="436" width="1" height="17" fill="#00ffff"/>
<rect x="1503" y="440" width="5" height="9" fill="#00ffff"/>
<rect x="1511" y="436" width="1" height="4" fill="#ff3c3c"/>
<rect x="1511" y="449" width="1" height="4" fill="#ff3c3c"/>
<rect x="1509.5" y="440.5" width="4" height="8" fill="#000" stroke="#ff3c3c" stroke-width="1"/>
<rect x="1517" y="436" width="1" height="36" fill="#00ffff"/>
<rect x="1515" y="440" width="5" height="24" fill="#00ffff"/>
<rect x="1523" y="456" width="1" height="32" fill="#00ffff"/>
<rect x="1521" y="467" width="5" height="17" fill="#00ffff"/>
<rect x="1529" y="471" width="1" height="4" fill="#ff3c3c"/>
<rect x="1529" y="484" width="1" height="11" fill="#ff3c3c"/>
<rect x="1527.5" y="475.5" width="4" height="8" fill="#000" stroke="#ff3c3c" stroke-width="1"/>
<rect x="1535" y="476" width="1" height="8" fill="#ff3c3c"/>
<rect x="1533.5" y="471.5" width="4" height="4" fill="#000" stroke="#ff3c3c" stroke-width="1"/>
<rect x="1541" y="456" width="1" height="55" fill="#00ffff"/>
<rect x="1539" y="471" width="5" height="36" fill="#00ffff"/>
<rect x="63.5" y="712.5" width="4" height="10" fill="#000" stroke="#ff3c3c" stroke-width="1"/>
<rect x="69.5" y="703.5" width="4" height="19" fill="#000" stroke="#ff3c3c" stroke-width="1"/>
<rect x="75" y="715" width="5" height="8" fill="#00ffff"/>
<rect x="81.5" y="717.5" width="4" height="5" fill="#000" stroke="#ff3c3c" stroke-width="1"/>
<rect x="87.5" y="715.5" width="4" height="7" fill="#000" stroke="#ff3c3c" stroke-width="1"/>
<rect x="93.5" y="715.5" width="4" height="7" fill="#000" stroke="#ff3c3c" stroke-width="1"/>
<rect x="99.5" y="708.5" width="4" height="14" fill="#000" stroke="#ff3c3c" stroke-width="1"/>
<rect x="105" y="713" width="5" height="10" fill="#00ffff"/>
<rect x="111.5" y="720.5" width="4" height="2" fill="#000" stroke="#ff3c3c" stroke-width="1"/>
<rect x="117.5" y="716.5" width="4" height="6" fill="#000" stroke="#ff3c3c" stroke-width="1"/>
<rect x="123.5" y="715.5" width="4" height="7" fill="#000" stroke="#ff3c3c" stroke-width="1"/>
<rect x="129.5" y="716.5" width="4" height="6" fill="#000" stroke="#ff3c3c" stroke-width="1"/>
<rect x="135" y="719" width="5" height="4" fill="#00ffff"/>
<rect x="141" y="717" width="5" height="6" fill="#00ffff"/>
<rect x="147.5" y="717.5" width="4" height="5" fill="#000" stroke="#ff3c3c" stroke-width="1"/>
<rect x="153.5" y="712.5" width="4" height="10" fill="#000" stroke="#ff3c3c" stroke-width="1"/>
<rect x="159" y="675" width="5" height="48" fill="#00ffff"/>
<rect x="165.5" y="697.5" width="4" height="25" fill="#000" stroke="#ff3c3c" stroke-width="1"/>
<rect x="171.5" y="707.5" width="4" height="15" fill="#000" stroke="#ff3c3c" stroke-width="1"/>
<rect x="177.5" y="696.5" width="4" height="26" fill="#000" stroke="#ff3c3c" stroke-width="1"/>
<rect x="183" y="695" width="5" height="28" fill="#00ffff"/>
<rect x="189.5" y="714.5" width="4" height="8" fill="#000" stroke="#ff3c3c" stroke-width="1"/>
<rect x="195.5" y="712.5" width="4" height="10" fill="#000" stroke="#ff3c3c" stroke-width="1"/>
<rect x="201" y="715" width="5" height="8" fill="#00ffff"/>
<rect x="207.5" y="711.5" width="4" height="11" fill="#000" stroke="#ff3c3c" stroke-width="1"/>
<rect x="213.5" y="713.5" width="4" height="9" fill="#000" stroke="#ff3c3c" stroke-width="1"/>
<rect x="219" y="708" width="5" height="15" fill="#00ffff"/>
<rect x="225" y="707" width="5" height="16" fill="#00ffff"/>
<rect x="231" y="709" width="5" height="14" fill="#00ffff"/>
<rect x="237" y="712" width="5" height="11" fill="#00ffff"/>
<rect x="243.5" y="716.5" width="4" height="6" fill="#000" stroke="#ff3c3c" stroke-width="1"/>
<rect x="249.5" y="717.5" width="4" height="5" fill="#000" stroke="#ff3c3c" stroke-width="1"/>
<rect x="255.5" y="713.5" width="4" height="9" fill="#000" stroke="#ff3c3c" stroke-width="1"/>
<rect x="261" y="713" width="5" height="10" fill="#00ffff"/>
<rect x="267" y="715" width="5" height="8" fill="#00ffff"/>
<rect x="273.5" y="717.5" width="4" height="5" fill="#000" stroke="#ff3c3c" stroke-width="1"/>
<rect x="279.5" y="717.5" width="4" height="5" fill="#000" stroke="#ff3c3c" stroke-width="1"/>
<rect x="285.5" y="712.5" width="4" height="10" fill="#000" stroke="#ff3c3c" stroke-width="1"/>
<rect x="291" y="716" width="5" height="7" fill="#00ffff"/>
<rect x="297.5" y="719.5" width="4" height="3" fill="#000" stroke="#ff3c3c" stroke-width="1"/>
<rect x="303" y="717" width="5" height="6" fill="#00ffff"/>
<rect x="309.5" y="720.5" width="4" height="2" fill="#000" stroke="#ff3c3c" stroke-width="1"/>
<rect x="315.5" y="719.5" width="4" height="3" fill="#000" stroke="#ff3c3c" stroke-width="1"/>
<rect x="321" y="713" width="5" height="10" fill="#00ffff"/>
<rect x="327.5" y="710.5" width="4" height="12" fill="#000" stroke="#ff3c3c" stroke-width="1"/>
<rect x="333" y="705" width="5" height="18" fill="#00ffff"/>
<rect x="339.5" y="719.5" width="4" height="3" fill="#000" stroke="#ff3c3c" stroke-width="1"/>
<rect x="345.5" y="719.5" width="4" height="3" fill="#000" stroke="#ff3c3c" stroke-width="1"/>
<rect x="351.5" y="716.5" width="4" height="6" fill="#000" stroke="#ff3c3c" stroke-width="1"/>
<rect x="357" y="713" width="5" height="10" fill="#00ffff"/>
<rect x="363.5" y="720.5" width="4" height="2" fill="#000" stroke="#ff3c3c" stroke-width="1"/>
<rect x="369" y="720" width="5" height="3" fill="#00ffff"/>
<rect x="375" y="721" width="5" height="2" fill="#00ffff"/>
<rect x="381.5" y="720.5" width="4" height="2" fill="#000" stroke="#ff3c3c" stroke-width="1"/>
<rect x="387.5" y="720.5" width="4" height="2" fill="#000" stroke="#ff3c3c" stroke-width="1"/>
<rect x="393.5" y="720.5" width="4" height="2" fill="#000" stroke="#ff3c3c" stroke-width="1"/>
<rect x="399.5" y="718.5" width="4" height="4" fill="#000" stroke="#ff3c3c" stroke-width="1"/>
<rect x="405.5" y="717.5" width="4" height="5" fill="#000" stroke="#ff3c3c" stroke-width="1"/>
<rect x="411" y="714" width="5" height="9" fill="#00ffff"/>
<rect x="417.5" y="715.5" width="4" height="7" fill="#000" stroke="#ff3c3c" stroke-width="1"/>
<rect x="423.5" y="697.5" width="4" height="25" fill="#000" stroke="#ff3c3c" stroke-width="1"/>
<rect x="429.5" y="654.5" width="4" height="68" fill="#000" stroke="#ff3c3c" stroke-width="1"/>
<rect x="435" y="705" width="5" height="18" fill="#00ffff"/>
<rect x="441.5" y="689.5" width="4" height="33" fill="#000" stroke="#ff3c3c" stroke-width="1"/>
<rect x="447" y="709" width="5" height="14" fill="#00ffff"/>
<rect x="453.5" y="702.5" width="4" height="20" fill="#000" stroke="#ff3c3c" stroke-width="1"/>
<rect x="459.5" y="713.5" width="4" height="9" fill="#000" stroke="#ff3c3c" stroke-width="1"/>
<rect x="465.5" y="710.5" width="4" height="12" fill="#000" stroke="#ff3c3c" stroke-width="1"/>
<rect x="471.5" y="713.5" width="4" height="9" fill="#000" stroke="#ff3c3c" stroke-width="1"/>
<rect x="477.5" y="717.5" width="4" height="5" fill="#000" stroke="#ff3c3c" stroke-width="1"/>
<rect x="483" y="711" width="5" height="12" fill="#00ffff"/>
<rect x="489.5" y="710.5" width="4" height="12" fill="#000" stroke="#ff3c3c" stroke-width="1"/>
<rect x="495" y="710" width="5" height="13" fill="#00ffff"/>
<rect x="501" y="697" width="5" height="26" fill="#00ffff"/>
<rect x="507.5" y="714.5" width="4" height="8" fill="#000" stroke="#ff3c3c" stroke-width="1"/>
<rect x="513.5" y="717.5" width="4" height="5" fill="#000" stroke="#ff3c3c" stroke-width="1"/>
<rect x="519.5" y="717.5" width="4" height="5" fill="#000" stroke="#ff3c3c" stroke-width="1"/>
<rect x="525.5" y="718.5" width="4" height="4" fill="#000" stroke="#ff3c3c" stroke-width="1"/>
<rect x="531" y="714" width="5" height="9" fill="#00ffff"/>
<rect x="537.5" y="707.5" width="4" height="15" fill="#000" stroke="#ff3c3c" stroke-width="1"/>
<rect x="543" y="712" width="5" height="11" fill="#00ffff"/>
<rect x="549" y="650" width="5" height="73" fill="#00ffff"/>
<rect x="555.5" y="700.5" width="4" height="22" fill="#000" stroke="#ff3c3c" stroke-width="1"/>
<rect x="561" y="706" width="5" height="17" fill="#00ffff"/>
<rect x="567.5" y="702.5" width="4" height="20" fill="#000" stroke="#ff3c3c" stroke-width="1"/>
<rect x="573.5" y="698.5" width="4" height="24" fill="#000" stroke="#ff3c3c" stroke-width="1"/>
<rect x="579" y="712" width="5" height="11" fill="#00ffff"/>
<rect x="585.5" y="691.5" width="4" height="31" fill="#000" stroke="#ff3c3c" stroke-width="1"/>
<rect x="591" y="702" width="5" height="21" fill="#00ffff"/>
<rect x="597.5" y="707.5" width="4" height="15" fill="#000" stroke="#ff3c3c" stroke-width="1"/>
<rect x="603.5" y="695.5" width="4" height="27" fill="#000" stroke="#ff3c3c" stroke-width="1"/>
<rect x="609" y="708" width="5" height="15" fill="#00ffff"/>
<rect x="615.5" y="714.5" width="4" height="8" fill="#000" stroke="#ff3c3c" stroke-width="1"/>
<rect x="621.5" y="702.5" width="4" height="20" fill="#000" stroke="#ff3c3c" stroke-width="1"/>
<rect x="627" y="714" width="5" height="9" fill="#00ffff"/>
<rect x="633" y="717" width="5" height="6" fill="#00ffff"/>
<rect x="639.5" y="717.5" width="4" height="5" fill="#000" stroke="#ff3c3c" stroke-width="1"/>
<rect x="645.5" y="710.5" width="4" height="12" fill="#000" stroke="#ff3c3c" stroke-width="1"/>
<rect x="651.5" y="695.5" width="4" height="27" fill="#000" stroke="#ff3c3c" stroke-width="1"/>
<rect x="657.5" y="708.5" width="4" height="14" fill="#000" stroke="#ff3c3c" stroke-width="1"/>
<rect x="663.5" y="716.5" width="4" height="6" fill="#000" stroke="#ff3c3c" stroke-width="1"/>
<rect x="669" y="712" width="5" height="11" fill="#00ffff"/>
<rect x="675" y="717" width="5" height="6" fill="#00ffff"/>
<rect x="681" y="714" width="5" height="9" fill="#00ffff"/>
<rect x="687.5" y="720.5" width="4" height="2" fill="#000" stroke="#ff3c3c" stroke-width="1"/>
<rect x="693.5" y="717.5" width="4" height="5" fill="#000" stroke="#ff3c3c" stroke-width="1"/>
<rect x="699.5" y="717.5" width="4" height="5" fill="#000" stroke="#ff3c3c" stroke-width="1"/>
<rect x="705" y="718" width="5" height="5" fill="#00ffff"/>
<rect x="711.5" y="716.5" width="4" height="6" fill="#000" stroke="#ff3c3c" stroke-width="1"/>
<rect x="717" y="693" width="5" height="30" fill="#00ffff"/>
<rect x="723.5" y="709.5" width="4" height="13" fill="#000" stroke="#ff3c3c" stroke-width="1"/>
<rect x="729.5" y="711.5" width="4" height="11" fill="#000" stroke="#ff3c3c" stroke-width="1"/>
<rect x="735" y="703" width="5" height="20" fill="#00ffff"/>
<rect x="741" y="697" width="5" height="26" fill="#00ffff"/>
<rect x="747.5" y="713.5" width="4" height="9" fill="#000" stroke="#ff3c3c" stroke-width="1"/>
<rect x="753.5" y="712.5" width="4" height="10" fill="#000" stroke="#ff3c3c" stroke-width="1"/>
<rect x="759" y="717" width="5" height="6" fill="#00ffff"/>
<rect x="765.5" y="714.5" width="4" height="8" fill="#000" stroke="#ff3c3c" stroke-width="1"/>
<rect x="771.5" y="716.5" width="4" height="6" fill="#000" stroke="#ff3c3c" stroke-width="1"/>
<rect x="777.5" y="720.5" width="4" height="2" fill="#000" stroke="#ff3c3c" stroke-width="1"/>
<rect x="783.5" y="720.5" width="4" height="2" fill="#000" stroke="#ff3c3c" stroke-width="1"/>
<rect x="789.5" y="715.5" width="4" height="7" fill="#000" stroke="#ff3c3c" stroke-width="1"/>
<rect x="795.5" y="717.5" width="4" height="5" fill="#000" stroke="#ff3c3c" stroke-width="1"/>
<rect x="801.5" y="720.5" width="4" height="2" fill="#000" stroke="#ff3c3c" stroke-width="1"/>
<rect x="807.5" y="715.5" width="4" height="7" fill="#000" stroke="#ff3c3c" stroke-width="1"/>
<rect x="813.5" y="717.5" width="4" height="5" fill="#000" stroke="#ff3c3c" stroke-width="1"/>
<rect x="819.5" y="712.5" width="4" height="10" fill="#000" stroke="#ff3c3c" stroke-width="1"/>
<rect x="825.5" y="715.5" width="4" height="7" fill="#000" stroke="#ff3c3c" stroke-width="1"/>
<rect x="831" y="717" width="5" height="6" fill="#00ffff"/>
<rect x="837.5" y="717.5" width="4" height="5" fill="#000" stroke="#ff3c3c" stroke-width="1"/>
<rect x="843" y="713" width="5" height="10" fill="#00ffff"/>
<rect x="849" y="684" width="5" height="39" fill="#00ffff"/>
<rect x="855" y="698" width="5" height="25" fill="#00ffff"/>
<rect x="861" y="707" width="5" height="16" fill="#00ffff"/>
<rect x="867.5" y="705.5" width="4" height="17" fill="#000" stroke="#ff3c3c" stroke-width="1"/>
<rect x="873" y="700" width="5" height="23" fill="#00ffff"/>
<rect x="879.5" y="687.5" width="4" height="35" fill="#000" stroke="#ff3c3c" stroke-width="1"/>
<rect x="885.5" y="708.5" width="4" height="14" fill="#000" stroke="#ff3c3c" stroke-width="1"/>
<rect x="891" y="714" width="5" height="9" fill="#00ffff"/>
<rect x="897.5" y="713.5" width="4" height="9" fill="#000" stroke="#ff3c3c" stroke-width="1"/>
<rect x="903" y="714" width="5" height="9" fill="#00ffff"/>
<rect x="909" y="712" width="5" height="11" fill="#00ffff"/>
<rect x="915.5" y="704.5" width="4" height="18" fill="#000" stroke="#ff3c3c" stroke-width="1"/>
<rect x="921.5" y="703.5" width="4" height="19" fill="#000" stroke="#ff3c3c" stroke-width="1"/>
<rect x="927" y="708" width="5" height="15" fill="#00ffff"/>
<rect x="933.5" y="699.5" width="4" height="23" fill="#000" stroke="#ff3c3c" stroke-width="1"/>
<rect x="939" y="714" width="5" height="9" fill="#00ffff"/>
<rect x="945.5" y="715.5" width="4" height="7" fill="#000" stroke="#ff3c3c" stroke-width="1"/>
<rect x="951.5" y="705.5" width="4" height="17" fill="#000" stroke="#ff3c3c" stroke-width="1"/>
<rect x="957" y="710" width="5" height="13" fill="#00ffff"/>
<rect x="963" y="712" width="5" height="11" fill="#00ffff"/>
<rect x="969" y="699" width="5" height="24" fill="#00ffff"/>
<rect x="975.5" y="693.5" width="4" height="29" fill="#000" stroke="#ff3c3c" stroke-width="1"/>
<rect x="981.5" y="689.5" width="4" height="33" fill="#000" stroke="#ff3c3c" stroke-width="1"/>
<rect x="987.5" y="594.5" width="4" height="128" fill="#000" stroke="#ff3c3c" stroke-width="1"/>
<rect x="993.5" y="678.5" width="4" height="44" fill="#000" stroke="#ff3c3c" stroke-width="1"/>
<rect x="999" y="672" width="5" height="51" fill="#00ffff"/>
<rect x="1005.5" y="694.5" width="4" height="28" fill="#000" stroke="#ff3c3c" stroke-width="1"/>
<rect x="1011" y="704" width="5" height="19" fill="#00ffff"/>
<rect x="1017" y="708" width="5" height="15" fill="#00ffff"/>
<rect x="1023" y="660" width="5" height="63" fill="#00ffff"/>
<rect x="1029" y="640" width="5" height="83" fill="#00ffff"/>
<rect x="1035" y="703" width="5" height="20" fill="#00ffff"/>
<rect x="1041" y="699" width="5" height="24" fill="#00ffff"/>
<rect x="1047.5" y="698.5" width="4" height="24" fill="#000" stroke="#ff3c3c" stroke-width="1"/>
<rect x="1053" y="704" width="5" height="19" fill="#00ffff"/>
<rect x="1059" y="705" width="5" height="18" fill="#00ffff"/>
<rect x="1065.5" y="708.5" width="4" height="14" fill="#000" stroke="#ff3c3c" stroke-width="1"/>
<rect x="1071.5" y="712.5" width="4" height="10" fill="#000" stroke="#ff3c3c" stroke-width="1"/>
<rect x="1077.5" y="685.5" width="4" height="37" fill="#000" stroke="#ff3c3c" stroke-width="1"/>
<rect x="1083" y="708" width="5" height="15" fill="#00ffff"/>
<rect x="1089" y="710" width="5" height="13" fill="#00ffff"/>
<rect x="1095.5" y="694.5" width="4" height="28" fill="#000" stroke="#ff3c3c" stroke-width="1"/>
<rect x="1101.5" y="712.5" width="4" height="10" fill="#000" stroke="#ff3c3c" stroke-width="1"/>
<rect x="1107.5" y="703.5" width="4" height="19" fill="#000" stroke="#ff3c3c" stroke-width="1"/>
<rect x="1113.5" y="714.5" width="4" height="8" fill="#000" stroke="#ff3c3c" stroke-width="1"/>
<rect x="1119.5" y="715.5" width="4" height="7" fill="#000" stroke="#ff3c3c" stroke-width="1"/>
<rect x="1125" y="712" width="5" height="11" fill="#00ffff"/>
<rect x="1131" y="668" width="5" height="55" fill="#00ffff"/>
<rect x="1137.5" y="655.5" width="4" height="67" fill="#000" stroke="#ff3c3c" stroke-width="1"/>
<rect x="1143.5" y="700.5" width="4" height="22" fill="#000" stroke="#ff3c3c" stroke-width="1"/>
<rect x="1149" y="708" width="5" height="15" fill="#00ffff"/>
<rect x="1155.5" y="712.5" width="4" height="10" fill="#000" stroke="#ff3c3c" stroke-width="1"/>
<rect x="1161" y="712" width="5" height="11" fill="#00ffff"/>
<rect x="1167" y="708" width="5" height="15" fill="#00ffff"/>
<rect x="1173" y="696" width="5" height="27" fill="#00ffff"/>
<rect x="1179" y="662" width="5" height="61" fill="#00ffff"/>
<rect x="1185" y="697" width="5" height="26" fill="#00ffff"/>
<rect x="1191" y="653" width="5" height="70" fill="#00ffff"/>
<rect x="1197" y="660" width="5" height="63" fill="#00ffff"/>
<rect x="1203.5" y="683.5" width="4" height="39" fill="#000" stroke="#ff3c3c" stroke-width="1"/>
<rect x="1209.5" y="704.5" width="4" height="18" fill="#000" stroke="#ff3c3c" stroke-width="1"/>
<rect x="1215" y="704" width="5" height="19" fill="#00ffff"/>
<rect x="1221" y="712" width="5" height="11" fill="#00ffff"/>
<rect x="1227" y="695" width="5" height="28" fill="#00ffff"/>
<rect x="1233" y="688" width="5" height="35" fill="#00ffff"/>
<rect x="1239" y="664" width="5" height="59" fill="#00ffff"/>
<rect x="1245" y="698" width="5" height="25" fill="#00ffff"/>
<rect x="1251" y="694" width="5" height="29" fill="#00ffff"/>
<rect x="1257.5" y="704.5" width="4" height="18" fill="#000" stroke="#ff3c3c" stroke-width="1"/>
<rect x="1263.5" y="715.5" width="4" height="7" fill="#000" stroke="#ff3c3c" stroke-width="1"/>
<rect x="1269" y="694" width="5" height="29" fill="#00ffff"/>
<rect x="1275.5" y="608.5" width="4" height="114" fill="#000" stroke="#ff3c3c" stroke-width="1"/>
<rect x="1281.5" y="666.5" width="4" height="56" fill="#000" stroke="#ff3c3c" stroke-width="1"/>
<rect x="1287" y="686" width="5" height="37" fill="#00ffff"/>
<rect x="1293.5" y="695.5" width="4" height="27" fill="#000" stroke="#ff3c3c" stroke-width="1"/>
<rect x="1299.5" y="708.5" width="4" height="14" fill="#000" stroke="#ff3c3c" stroke-width="1"/>
<rect x="1305.5" y="709.5" width="4" height="13" fill="#000" stroke="#ff3c3c" stroke-width="1"/>
<rect x="1311" y="706" width="5" height="17" fill="#00ffff"/>
<rect x="1317.5" y="703.5" width="4" height="19" fill="#000" stroke="#ff3c3c" stroke-width="1"/>
<rect x="1323.5" y="703.5" width="4" height="19" fill="#000" stroke="#ff3c3c" stroke-width="1"/>
<rect x="1329" y="707" width="5" height="16" fill="#00ffff"/>
<rect x="1335.5" y="709.5" width="4" height="13" fill="#000" stroke="#ff3c3c" stroke-width="1"/>
<rect x="1341.5" y="700.5" width="4" height="22" fill="#000" stroke="#ff3c3c" stroke-width="1"/>
<rect x="1347" y="704" width="5" height="19" fill="#00ffff"/>
<rect x="1353.5" y="709.5" width="4" height="13" fill="#000" stroke="#ff3c3c" stroke-width="1"/>
<rect x="1359.5" y="716.5" width="4" height="6" fill="#000" stroke="#ff3c3c" stroke-width="1"/>
<rect x="1365.5" y="714.5" width="4" height="8" fill="#000" stroke="#ff3c3c" stroke-width="1"/>
<rect x="1371" y="707" width="5" height="16" fill="#00ffff"/>
<rect x="1377.5" y="711.5" width="4" height="11" fill="#000" stroke="#ff3c3c" stroke-width="1"/>
<rect x="1383.5" y="715.5" width="4" height="7" fill="#000" stroke="#ff3c3c" stroke-width="1"/>
<rect x="1389.5" y="719.5" width="4" height="3" fill="#000" stroke="#ff3c3c" stroke-width="1"/>
<rect x="1395.5" y="708.5" width="4" height="14" fill="#000" stroke="#ff3c3c" stroke-width="1"/>
<rect x="1401.5" y="701.5" width="4" height="21" fill="#000" stroke="#ff3c3c" stroke-width="1"/>
<rect x="1407.5" y="713.5" width="4" height="9" fill="#000" stroke="#ff3c3c" stroke-width="1"/>
<rect x="1413" y="710" width="5" height="13" fill="#00ffff"/>
<rect x="1419.5" y="713.5" width="4" height="9" fill="#000" stroke="#ff3c3c" stroke-width="1"/>
<rect x="1425" y="695" width="5" height="28" fill="#00ffff"/>
<rect x="1431" y="695" width="5" height="28" fill="#00ffff"/>
<rect x="1437.5" y="689.5" width="4" height="33" fill="#000" stroke="#ff3c3c" stroke-width="1"/>
<rect x="1443.5" y="713.5" width="4" height="9" fill="#000" stroke="#ff3c3c" stroke-width="1"/>
<rect x="1449" y="705" width="5" height="18" fill="#00ffff"/>
<rect x="1455.5" y="711.5" width="4" height="11" fill="#000" stroke="#ff3c3c" stroke-width="1"/>
<rect x="1461.5" y="669.5" width="4" height="53" fill="#000" stroke="#ff3c3c" stroke-width="1"/>
<rect x="1467.5" y="703.5" width="4" height="19" fill="#000" stroke="#ff3c3c" stroke-width="1"/>
<rect x="1473" y="704" width="5" height="19" fill="#00ffff"/>
<rect x="1479" y="707" width="5" height="16" fill="#00ffff"/>
<rect x="1485" y="702" width="5" height="21" fill="#00ffff"/>
<rect x="1491.5" y="718.5" width="4" height="4" fill="#000" stroke="#ff3c3c" stroke-width="1"/>
<rect x="1497.5" y="715.5" width="4" height="7" fill="#000" stroke="#ff3c3c" stroke-width="1"/>
<rect x="1503" y="706" width="5" height="17" fill="#00ffff"/>
<rect x="1509.5" y="710.5" width="4" height="12" fill="#000" stroke="#ff3c3c" stroke-width="1"/>
<rect x="1515" y="693" width="5" height="30" fill="#00ffff"/>
<rect x="1521" y="669" width="5" height="54" fill="#00ffff"/>
<rect x="1527.5" y="685.5" width="4" height="37" fill="#000" stroke="#ff3c3c" stroke-width="1"/>
<rect x="1533.5" y="697.5" width="4" height="25" fill="#000" stroke="#ff3c3c" stroke-width="1"/>
<rect x="1539" y="659" width="5" height="64" fill="#00ffff"/>
<rect x="65" y="790" width="1" height="11" fill="#ff3c3c"/>
<rect x="71" y="789" width="1" height="12" fill="#ff3c3c"/>
<rect x="77" y="793" width="1" height="8" fill="#ff3c3c"/>
<rect x="83" y="794" width="1" height="7" fill="#ff3c3c"/>
<rect x="89" y="796" width="1" height="5" fill="#ff3c3c"/>
<rect x="95" y="797" width="1" height="4" fill="#ff3c3c"/>
<rect x="101" y="796" width="1" height="5" fill="#ff3c3c"/>
<rect x="107" y="800" width="1" height="1" fill="#ff3c3c"/>
<rect x="113" y="800" width="1" height="4" fill="#00ffff"/>
<rect x="119" y="800" width="1" height="8" fill="#00ffff"/>
<rect x="125" y="800" width="1" height="9" fill="#00ffff"/>
<rect x="131" y="800" width="1" height="7" fill="#00ffff"/>
<rect x="137" y="800" width="1" height="7" fill="#00ffff"/>
<rect x="143" y="800" width="1" height="10" fill="#00ffff"/>
<rect x="149" y="800" width="1" height="11" fill="#00ffff"/>
<rect x="155" y="800" width="1" height="9" fill="#00ffff"/>
<rect x="161" y="800" width="1" height="15" fill="#00ffff"/>
<rect x="167" y="800" width="1" height="16" fill="#00ffff"/>
<rect x="173" y="800" width="1" height="13" fill="#00ffff"/>
<rect x="179" y="800" width="1" height="7" fill="#00ffff"/>
<rect x="185" y="800" width="1" height="7" fill="#00ffff"/>
<rect x="191" y="800" width="1" height="5" fill="#00ffff"/>
<rect x="197" y="800" width="1" height="5" fill="#00ffff"/>
<rect x="203" y="800" width="1" height="6" fill="#00ffff"/>
<rect x="209" y="800" width="1" height="5" fill="#00ffff"/>
<rect x="215" y="800" width="1" height="4" fill="#00ffff"/>
<rect x="221" y="800" width="1" height="11" fill="#00ffff"/>
<rect x="227" y="800" width="1" height="21" fill="#00ffff"/>
<rect x="233" y="800" width="1" height="27" fill="#00ffff"/>
<rect x="239" y="800" width="1" height="32" fill="#00ffff"/>
<rect x="245" y="800" width="1" height="32" fill="#00ffff"/>
<rect x="251" y="800" width="1" height="29" fill="#00ffff"/>
<rect x="257" y="800" width="1" height="23" fill="#00ffff"/>
<rect x="263" y="800" width="1" height="19" fill="#00ffff"/>
<rect x="269" y="800" width="1" height="17" fill="#00ffff"/>
<rect x="275" y="800" width="1" height="11" fill="#00ffff"/>
<rect x="281" y="800" width="1" height="6" fill="#00ffff"/>
<rect x="287" y="800" width="1" height="1" fill="#ff3c3c"/>
<rect x="293" y="798" width="1" height="3" fill="#ff3c3c"/>
<rect x="299" y="799" width="1" height="2" fill="#ff3c3c"/>
<rect x="305" y="800" width="1" height="2" fill="#00ffff"/>
<rect x="311" y="800" width="1" height="3" fill="#00ffff"/>
<rect x="317" y="800" width="1" height="2" fill="#00ffff"/>
<rect x="323" y="800" width="1" height="3" fill="#00ffff"/>
<rect x="329" y="800" width="1" height="3" fill="#00ffff"/>
<rect x="335" y="800" width="1" height="7" fill="#00ffff"/>
<rect x="341" y="800" width="1" height="6" fill="#00ffff"/>
<rect x="347" y="800" width="1" height="5" fill="#00ffff"/>
<rect x="353" y="800" width="1" height="2" fill="#00ffff"/>
<rect x="359" y="800" width="1" height="3" fill="#00ffff"/>
<rect x="365" y="800" width="1" height="3" fill="#00ffff"/>
<rect x="371" y="800" width="1" height="4" fill="#00ffff"/>
<rect x="377" y="800" width="1" height="6" fill="#00ffff"/>
<rect x="383" y="800" width="1" height="7" fill="#00ffff"/>
<rect x="389" y="800" width="1" height="4" fill="#00ffff"/>
<rect x="395" y="800" width="1" height="3" fill="#00ffff"/>
<rect x="401" y="800" width="1" height="2" fill="#00ffff"/>
<rect x="407" y="799" width="1" height="2" fill="#ff3c3c"/>
<rect x="413" y="800" width="1" height="1" fill="#ff3c3c"/>
<rect x="419" y="800" width="1" height="1" fill="#ff3c3c"/>
<rect x="425" y="797" width="1" height="4" fill="#ff3c3c"/>
<rect x="431" y="800" width="1" height="8" fill="#00ffff"/>
<rect x="437" y="800" width="1" height="19" fill="#00ffff"/>
<rect x="443" y="800" width="1" height="25" fill="#00ffff"/>
<rect x="449" y="800" width="1" height="32" fill="#00ffff"/>
<rect x="455" y="800" width="1" height="33" fill="#00ffff"/>
<rect x="461" y="800" width="1" height="31" fill="#00ffff"/>
<rect x="467" y="800" width="1" height="30" fill="#00ffff"/>
<rect x="473" y="800" width="1" height="27" fill="#00ffff"/>
<rect x="479" y="800" width="1" height="24" fill="#00ffff"/>
<rect x="485" y="800" width="1" height="27" fill="#00ffff"/>
<rect x="491" y="800" width="1" height="23" fill="#00ffff"/>
<rect x="497" y="800" width="1" height="20" fill="#00ffff"/>
<rect x="503" y="800" width="1" height="22" fill="#00ffff"/>
<rect x="509" y="800" width="1" height="19" fill="#00ffff"/>
<rect x="515" y="800" width="1" height="15" fill="#00ffff"/>
<rect x="521" y="800" width="1" height="9" fill="#00ffff"/>
<rect x="527" y="800" width="1" height="4" fill="#00ffff"/>
<rect x="533" y="800" width="1" height="2" fill="#00ffff"/>
<rect x="539" y="795" width="1" height="6" fill="#ff3c3c"/>
<rect x="545" y="796" width="1" height="5" fill="#ff3c3c"/>
<rect x="551" y="800" width="1" height="13" fill="#00ffff"/>
<rect x="557" y="800" width="1" height="19" fill="#00ffff"/>
<rect x="563" y="800" width="1" height="25" fill="#00ffff"/>
<rect x="569" y="800" width="1" height="24" fill="#00ffff"/>
<rect x="575" y="800" width="1" height="20" fill="#00ffff"/>
<rect x="581" y="800" width="1" height="17" fill="#00ffff"/>
<rect x="587" y="800" width="1" height="6" fill="#00ffff"/>
<rect x="593" y="800" width="1" height="2" fill="#00ffff"/>
<rect x="599" y="795" width="1" height="6" fill="#ff3c3c"/>
<rect x="605" y="783" width="1" height="18" fill="#ff3c3c"/>
<rect x="611" y="779" width="1" height="22" fill="#ff3c3c"/>
<rect x="617" y="778" width="1" height="23" fill="#ff3c3c"/>
<rect x="623" y="769" width="1" height="32" fill="#ff3c3c"/>
<rect x="629" y="767" width="1" height="34" fill="#ff3c3c"/>
<rect x="635" y="767" width="1" height="34" fill="#ff3c3c"/>
<rect x="641" y="762" width="1" height="39" fill="#ff3c3c"/>
<rect x="647" y="757" width="1" height="44" fill="#ff3c3c"/>
<rect x="653" y="749" width="1" height="52" fill="#ff3c3c"/>
<rect x="659" y="745" width="1" height="56" fill="#ff3c3c"/>
<rect x="665" y="745" width="1" height="56" fill="#ff3c3c"/>
<rect x="671" y="751" width="1" height="50" fill="#ff3c3c"/>
<rect x="677" y="759" width="1" height="42" fill="#ff3c3c"/>
<rect x="683" y="767" width="1" height="34" fill="#ff3c3c"/>
<rect x="689" y="775" width="1" height="26" fill="#ff3c3c"/>
<rect x="695" y="780" width="1" height="21" fill="#ff3c3c"/>
<rect x="701" y="783" width="1" height="18" fill="#ff3c3c"/>
<rect x="707" y="788" width="1" height="13" fill="#ff3c3c"/>
<rect x="713" y="791" width="1" height="10" fill="#ff3c3c"/>
<rect x="719" y="800" width="1" height="2" fill="#00ffff"/>
<rect x="725" y="800" width="1" height="5" fill="#00ffff"/>
<rect x="731" y="800" width="1" height="7" fill="#00ffff"/>
<rect x="737" y="800" width="1" height="15" fill="#00ffff"/>
<rect x="743" y="800" width="1" height="23" fill="#00ffff"/>
<rect x="749" y="800" width="1" height="24" fill="#00ffff"/>
<rect x="755" y="800" width="1" height="23" fill="#00ffff"/>
<rect x="761" y="800" width="1" height="24" fill="#00ffff"/>
<rect x="767" y="800" width="1" height="22" fill="#00ffff"/>
<rect x="773" y="800" width="1" height="18" fill="#00ffff"/>
<rect x="779" y="800" width="1" height="14" fill="#00ffff"/>
<rect x="785" y="800" width="1" height="11" fill="#00ffff"/>
<rect x="791" y="800" width="1" height="8" fill="#00ffff"/>
<rect x="797" y="800" width="1" height="8" fill="#00ffff"/>
<rect x="803" y="800" width="1" height="6" fill="#00ffff"/>
<rect x="809" y="800" width="1" height="4" fill="#00ffff"/>
<rect x="815" y="800" width="1" height="1" fill="#ff3c3c"/>
<rect x="821" y="800" width="1" height="1" fill="#ff3c3c"/>
<rect x="827" y="799" width="1" height="2" fill="#ff3c3c"/>
<rect x="833" y="800" width="1" height="1" fill="#ff3c3c"/>
<rect x="839" y="800" width="1" height="1" fill="#ff3c3c"/>
<rect x="845" y="800" width="1" height="3" fill="#00ffff"/>
<rect x="851" y="800" width="1" height="15" fill="#00ffff"/>
<rect x="857" y="800" width="1" height="25" fill="#00ffff"/>
<rect x="863" y="800" width="1" height="31" fill="#00ffff"/>
<rect x="869" y="800" width="1" height="30" fill="#00ffff"/>
<rect x="875" y="800" width="1" height="33" fill="#00ffff"/>
<rect x="881" y="800" width="1" height="31" fill="#00ffff"/>
<rect x="887" y="800" width="1" height="27" fill="#00ffff"/>
<rect x="893" y="800" width="1" height="24" fill="#00ffff"/>
<rect x="899" y="800" width="1" height="21" fill="#00ffff"/>
<rect x="905" y="800" width="1" height="19" fill="#00ffff"/>
<rect x="911" y="800" width="1" height="19" fill="#00ffff"/>
<rect x="917" y="800" width="1" height="17" fill="#00ffff"/>
<rect x="923" y="800" width="1" height="15" fill="#00ffff"/>
<rect x="929" y="800" width="1" height="17" fill="#00ffff"/>
<rect x="935" y="800" width="1" height="10" fill="#00ffff"/>
<rect x="941" y="800" width="1" height="5" fill="#00ffff"/>
<rect x="947" y="799" width="1" height="2" fill="#ff3c3c"/>
<rect x="953" y="790" width="1" height="11" fill="#ff3c3c"/>
<rect x="959" y="789" width="1" height="12" fill="#ff3c3c"/>
<rect x="965" y="790" width="1" height="11" fill="#ff3c3c"/>
<rect x="971" y="793" width="1" height="8" fill="#ff3c3c"/>
<rect x="977" y="791" width="1" height="10" fill="#ff3c3c"/>
<rect x="983" y="790" width="1" height="11" fill="#ff3c3c"/>
<rect x="989" y="800" width="1" height="14" fill="#00ffff"/>
<rect x="995" y="800" width="1" height="25" fill="#00ffff"/>
<rect x="1001" y="800" width="1" height="35" fill="#00ffff"/>
<rect x="1007" y="800" width="1" height="32" fill="#00ffff"/>
<rect x="1013" y="800" width="1" height="29" fill="#00ffff"/>
<rect x="1019" y="800" width="1" height="26" fill="#00ffff"/>
<rect x="1025" y="800" width="1" height="35" fill="#00ffff"/>
<rect x="1031" y="800" width="1" height="43" fill="#00ffff"/>
<rect x="1037" y="800" width="1" height="47" fill="#00ffff"/>
<rect x="1043" y="800" width="1" height="47" fill="#00ffff"/>
<rect x="1049" y="800" width="1" height="37" fill="#00ffff"/>
<rect x="1055" y="800" width="1" height="30" fill="#00ffff"/>
<rect x="1061" y="800" width="1" height="24" fill="#00ffff"/>
<rect x="1067" y="800" width="1" height="17" fill="#00ffff"/>
<rect x="1073" y="800" width="1" height="8" fill="#00ffff"/>
<rect x="1079" y="794" width="1" height="7" fill="#ff3c3c"/>
<rect x="1085" y="788" width="1" height="13" fill="#ff3c3c"/>
<rect x="1091" y="787" width="1" height="14" fill="#ff3c3c"/>
<rect x="1097" y="785" width="1" height="16" fill="#ff3c3c"/>
<rect x="1103" y="781" width="1" height="20" fill="#ff3c3c"/>
<rect x="1109" y="777" width="1" height="24" fill="#ff3c3c"/>
<rect x="1115" y="773" width="1" height="28" fill="#ff3c3c"/>
<rect x="1121" y="773" width="1" height="28" fill="#ff3c3c"/>
<rect x="1127" y="778" width="1" height="23" fill="#ff3c3c"/>
<rect x="1133" y="790" width="1" height="11" fill="#ff3c3c"/>
<rect x="1139" y="779" width="1" height="22" fill="#ff3c3c"/>
<rect x="1145" y="770" width="1" height="31" fill="#ff3c3c"/>
<rect x="1151" y="770" width="1" height="31" fill="#ff3c3c"/>
<rect x="1157" y="770" width="1" height="31" fill="#ff3c3c"/>
<rect x="1163" y="774" width="1" height="27" fill="#ff3c3c"/>
<rect x="1169" y="782" width="1" height="19" fill="#ff3c3c"/>
<rect x="1175" y="793" width="1" height="8" fill="#ff3c3c"/>
<rect x="1181" y="800" width="1" height="8" fill="#00ffff"/>
<rect x="1187" y="800" width="1" height="17" fill="#00ffff"/>
<rect x="1193" y="800" width="1" height="33" fill="#00ffff"/>
<rect x="1199" y="800" width="1" height="49" fill="#00ffff"/>
<rect x="1205" y="800" width="1" height="48" fill="#00ffff"/>
<rect x="1211" y="800" width="1" height="42" fill="#00ffff"/>
<rect x="1217" y="800" width="1" height="36" fill="#00ffff"/>
<rect x="1223" y="800" width="1" height="36" fill="#00ffff"/>
<rect x="1229" y="800" width="1" height="45" fill="#00ffff"/>
<rect x="1235" y="800" width="1" height="55" fill="#00ffff"/>
<rect x="1241" y="800" width="1" height="68" fill="#00ffff"/>
<rect x="1247" y="800" width="1" height="74" fill="#00ffff"/>
<rect x="1253" y="800" width="1" height="74" fill="#00ffff"/>
<rect x="1259" y="800" width="1" height="59" fill="#00ffff"/>
<rect x="1265" y="800" width="1" height="42" fill="#00ffff"/>
<rect x="1271" y="800" width="1" height="38" fill="#00ffff"/>
<rect x="1277" y="800" width="1" height="19" fill="#00ffff"/>
<rect x="1283" y="799" width="1" height="2" fill="#ff3c3c"/>
<rect x="1289" y="787" width="1" height="14" fill="#ff3c3c"/>
<rect x="1295" y="776" width="1" height="25" fill="#ff3c3c"/>
<rect x="1301" y="766" width="1" height="35" fill="#ff3c3c"/>
<rect x="1307" y="758" width="1" height="43" fill="#ff3c3c"/>
<rect x="1313" y="757" width="1" height="44" fill="#ff3c3c"/>
<rect x="1319" y="754" width="1" height="47" fill="#ff3c3c"/>
<rect x="1325" y="751" width="1" height="50" fill="#ff3c3c"/>
<rect x="1331" y="753" width="1" height="48" fill="#ff3c3c"/>
<rect x="1337" y="754" width="1" height="47" fill="#ff3c3c"/>
<rect x="1343" y="751" width="1" height="50" fill="#ff3c3c"/>
<rect x="1349" y="757" width="1" height="44" fill="#ff3c3c"/>
<rect x="1355" y="762" width="1" height="39" fill="#ff3c3c"/>
<rect x="1361" y="763" width="1" height="38" fill="#ff3c3c"/>
<rect x="1367" y="766" width="1" height="35" fill="#ff3c3c"/>
<rect x="1373" y="774" width="1" height="27" fill="#ff3c3c"/>
<rect x="1379" y="778" width="1" height="23" fill="#ff3c3c"/>
<rect x="1385" y="780" width="1" height="21" fill="#ff3c3c"/>
<rect x="1391" y="781" width="1" height="20" fill="#ff3c3c"/>
<rect x="1397" y="781" width="1" height="20" fill="#ff3c3c"/>
<rect x="1403" y="779" width="1" height="22" fill="#ff3c3c"/>
<rect x="1409" y="774" width="1" height="27" fill="#ff3c3c"/>
<rect x="1415" y="775" width="1" height="26" fill="#ff3c3c"/>
<rect x="1421" y="777" width="1" height="24" fill="#ff3c3c"/>
<rect x="1427" y="785" width="1" height="16" fill="#ff3c3c"/>
<rect x="1433" y="792" width="1" height="9" fill="#ff3c3c"/>
<rect x="1439" y="786" width="1" height="15" fill="#ff3c3c"/>
<rect x="1445" y="782" width="1" height="19" fill="#ff3c3c"/>
<rect x="1451" y="781" width="1" height="20" fill="#ff3c3c"/>
<rect x="1457" y="780" width="1" height="21" fill="#ff3c3c"/>
<rect x="1463" y="769" width="1" height="32" fill="#ff3c3c"/>
<rect x="1469" y="764" width="1" height="37" fill="#ff3c3c"/>
<rect x="1475" y="769" width="1" height="32" fill="#ff3c3c"/>
<rect x="1481" y="776" width="1" height="25" fill="#ff3c3c"/>
<rect x="1487" y="783" width="1" height="18" fill="#ff3c3c"/>
<rect x="1493" y="786" width="1" height="15" fill="#ff3c3c"/>
<rect x="1499" y="788" width="1" height="13" fill="#ff3c3c"/>
<rect x="1505" y="793" width="1" height="8" fill="#ff3c3c"/>
<rect x="1511" y="794" width="1" height="7" fill="#ff3c3c"/>
<rect x="1517" y="800" width="1" height="3" fill="#00ffff"/>
<rect x="1523" y="800" width="1" height="15" fill="#00ffff"/>
<rect x="1529" y="800" width="1" height="19" fill="#00ffff"/>
<rect x="1535" y="800" width="1" height="20" fill="#00ffff"/>
<rect x="1541" y="800" width="1" height="31" fill="#00ffff"/>
</g>
<g shape-rendering="crispEdges">
<polyline points="65.5,69.6 71.5,64.9 77.5,61.1 83.5,57.6 89.5,54.3 95.5,51.2 101.5,48.4 107.5,46.2 113.5,45.2 119.5,44.5 125.5,45.2 131.5,46.2 137.5,47.6 143.5,50.1 149.5,52.3 155.5,54.9 161.5,58.3 167.5,62.0 173.5,64.4 179.5,64.5 185.5,63.6 191.5,60.8 197.5,58.8 203.5,57.6 209.5,56.9 215.5,57.2 221.5,58.5 227.5,58.0 233.5,58.0 239.5,56.8 245.5,56.5 251.5,56.4 257.5,56.7 263.5,56.7 269.5,56.7 275.5,56.4 281.5,56.1 287.5,55.0 293.5,54.8 299.5,54.6 305.5,54.6 311.5,55.0 317.5,54.7 323.5,54.7 329.5,54.9 335.5,56.7 341.5,57.1 347.5,58.3 353.5,59.2 359.5,60.2 365.5,62.2 371.5,64.7 377.5,64.9 383.5,65.3 389.5,65.4 395.5,67.2 401.5,68.1 407.5,67.7 413.5,67.8 419.5,67.8 425.5,66.6 431.5,63.5 437.5,59.2 443.5,57.7 449.5,54.4 455.5,52.7 461.5,51.3 467.5,50.1 473.5,50.1 479.5,49.8 485.5,48.4 491.5,47.9 497.5,48.1 503.5,47.9 509.5,49.5 515.5,50.8 521.5,53.4 527.5,55.9 533.5,58.2 539.5,61.0 545.5,64.9 551.5,64.5 557.5,67.3 563.5,71.4 569.5,75.6 575.5,82.1 581.5,92.4 587.5,97.0 593.5,99.8 599.5,103.4 605.5,105.4 611.5,108.4 617.5,111.7 623.5,113.1 629.5,115.3 635.5,117.6 641.5,115.8 647.5,113.5 653.5,107.2 659.5,99.8 665.5,93.5 671.5,89.0 677.5,85.8 683.5,83.2 689.5,80.5 695.5,78.2 701.5,74.6 707.5,73.1 713.5,70.9 719.5,72.4 725.5,73.0 731.5,73.8 737.5,77.0 743.5,78.4 749.5,81.6 755.5,83.9 761.5,84.4 767.5,86.3 773.5,88.7 779.5,89.0 785.5,89.9 791.5,91.0 797.5,91.0 803.5,91.1 809.5,93.0 815.5,95.7 821.5,98.8 827.5,100.7 833.5,102.2 839.5,103.2 845.5,104.3 851.5,103.0 857.5,102.2 863.5,101.2 869.5,103.1 875.5,100.5 881.5,101.1 887.5,102.2 893.5,101.5 899.5,100.7 905.5,100.3 911.5,100.0 917.5,99.6 923.5,99.9 929.5,99.7 935.5,101.9 941.5,104.5 947.5,107.5 953.5,110.2 959.5,113.8 965.5,117.8 971.5,123.5 977.5,129.5 983.5,136.4 989.5,134.6 995.5,138.5 1001.5,139.0 1007.5,139.5 1013.5,139.5 1019.5,139.4 1025.5,136.1 1031.5,131.6 1037.5,128.8 1043.5,127.4 1049.5,128.9 1055.5,130.7 1061.5,132.7 1067.5,134.8 1073.5,138.0 1079.5,142.4 1085.5,145.3 1091.5,150.6 1097.5,156.8 1103.5,164.5 1109.5,176.1 1115.5,186.1 1121.5,196.5 1127.5,206.6 1133.5,220.1 1139.5,238.4 1145.5,240.1 1151.5,244.7 1157.5,247.0 1163.5,253.7 1169.5,260.5 1175.5,266.6 1181.5,262.7 1187.5,259.0 1193.5,250.0 1199.5,239.5 1205.5,236.8 1211.5,235.0 1217.5,233.4 1223.5,230.7 1229.5,225.7 1235.5,221.7 1241.5,215.0 1247.5,209.5 1253.5,206.3 1259.5,208.4 1265.5,213.1 1271.5,217.1 1277.5,224.9 1283.5,232.2 1289.5,237.0 1295.5,250.0 1301.5,265.5 1307.5,280.7 1313.5,297.8 1319.5,315.6 1325.5,332.4 1331.5,348.1 1337.5,360.6 1343.5,373.6 1349.5,381.2 1355.5,385.6 1361.5,394.4 1367.5,405.7 1373.5,418.6 1379.5,428.3 1385.5,431.2 1391.5,431.5 1397.5,431.9 1403.5,433.1 1409.5,435.4 1415.5,435.5 1421.5,435.4 1427.5,441.8 1433.5,440.7 1439.5,440.0 1445.5,439.2 1451.5,438.8 1457.5,438.4 1463.5,431.9 1469.5,426.2 1475.5,424.8 1481.5,424.5 1487.5,424.1 1493.5,423.3 1499.5,423.3 1505.5,422.9 1511.5,422.0 1517.5,422.1 1523.5,420.9 1529.5,420.6 1535.5,420.5 1541.5,416.5" fill="none" stroke="#ffff00" stroke-width="1"/>
<polyline points="65.5,142.4 71.5,139.5 77.5,136.6 83.5,133.7 89.5,130.7 95.5,126.6 101.5,123.0 107.5,119.7 113.5,116.4 119.5,113.1 125.5,109.8 131.5,106.5 137.5,103.2 143.5,99.9 149.5,96.6 155.5,93.3 161.5,90.6 167.5,88.8 173.5,87.6 179.5,86.6 185.5,85.7 191.5,84.7 197.5,83.7 203.5,82.6 209.5,81.1 215.5,79.7 221.5,78.8 227.5,79.1 233.5,79.1 239.5,79.7 245.5,80.0 251.5,80.3 257.5,80.6 263.5,80.4 269.5,80.4 275.5,80.0 281.5,79.7 287.5,79.2 293.5,79.1 299.5,78.8 305.5,78.8 311.5,79.1 317.5,78.3 323.5,78.2 329.5,78.3 335.5,79.4 341.5,79.7 347.5,80.1 353.5,80.4 359.5,80.9 365.5,81.5 371.5,82.2 377.5,82.4 383.5,81.9 389.5,81.2 395.5,80.1 401.5,79.4 407.5,78.5 413.5,78.3 419.5,78.0 425.5,77.1 431.5,78.2 437.5,79.7 443.5,81.6 449.5,83.7 455.5,85.5 461.5,87.1 467.5,88.9 473.5,91.0 479.5,92.8 485.5,95.5 491.5,97.3 497.5,99.5 503.5,102.5 509.5,105.3 515.5,107.8 521.5,110.2 527.5,112.4 533.5,114.7 539.5,116.5 545.5,119.1 551.5,123.8 557.5,127.9 563.5,132.8 569.5,137.0 575.5,141.2 581.5,145.9 587.5,148.5 593.5,151.0 599.5,153.1 605.5,154.0 611.5,155.5 617.5,157.0 623.5,157.4 629.5,158.2 635.5,158.9 641.5,158.3 647.5,157.7 653.5,156.2 659.5,154.0 665.5,152.1 671.5,150.4 677.5,149.2 683.5,148.2 689.5,147.0 695.5,146.1 701.5,144.5 707.5,141.0 713.5,137.9 719.5,135.2 725.5,132.4 731.5,129.7 737.5,127.6 743.5,126.6 749.5,124.8 755.5,123.3 761.5,122.9 767.5,121.8 773.5,120.6 779.5,120.2 785.5,119.4 791.5,118.7 797.5,118.7 803.5,119.0 809.5,120.0 815.5,120.9 821.5,122.0 827.5,122.7 833.5,123.5 839.5,123.9 845.5,124.8 851.5,126.9 857.5,129.4 863.5,132.0 869.5,134.3 875.5,136.4 881.5,138.7 887.5,140.9 893.5,142.5 899.5,143.9 905.5,145.7 911.5,147.9 917.5,149.8 923.5,151.9 929.5,154.7 935.5,157.0 941.5,159.2 947.5,161.3 953.5,162.6 959.5,164.7 965.5,166.9 971.5,169.8 977.5,172.0 983.5,174.2 989.5,179.2 995.5,183.8 1001.5,188.5 1007.5,191.5 1013.5,194.3 1019.5,197.2 1025.5,201.8 1031.5,206.3 1037.5,211.3 1043.5,216.5 1049.5,220.9 1055.5,225.5 1061.5,230.1 1067.5,234.4 1073.5,238.4 1079.5,241.7 1085.5,244.8 1091.5,249.2 1097.5,253.3 1103.5,257.5 1109.5,262.1 1115.5,266.0 1121.5,269.9 1127.5,274.0 1133.5,279.7 1139.5,283.3 1145.5,283.9 1151.5,285.3 1157.5,286.2 1163.5,288.2 1169.5,290.6 1175.5,293.4 1181.5,295.6 1187.5,297.6 1193.5,300.5 1199.5,304.3 1205.5,307.8 1211.5,311.0 1217.5,314.1 1223.5,318.0 1229.5,323.5 1235.5,330.6 1241.5,338.5 1247.5,346.3 1253.5,354.4 1259.5,361.7 1265.5,368.9 1271.5,377.5 1277.5,384.5 1283.5,390.5 1289.5,395.7 1295.5,402.8 1301.5,409.8 1307.5,416.2 1313.5,423.1 1319.5,429.3 1325.5,434.9 1331.5,440.1 1337.5,444.2 1343.5,447.8 1349.5,450.8 1355.5,452.9 1361.5,455.6 1367.5,458.5 1373.5,462.0 1379.5,464.5 1385.5,465.7 1391.5,465.8 1397.5,464.8 1403.5,463.2 1409.5,460.8 1415.5,459.9 1421.5,459.3 1427.5,458.1 1433.5,458.5 1439.5,458.2 1445.5,457.6 1451.5,457.3 1457.5,457.2 1463.5,456.0 1469.5,454.4 1475.5,453.8 1481.5,453.6 1487.5,453.3 1493.5,452.9 1499.5,452.9 1505.5,452.4 1511.5,451.7 1517.5,452.1 1523.5,453.2 1529.5,453.3 1535.5,453.5 1541.5,455.0" fill="none" stroke="#ffffff" stroke-width="1"/>
<polyline points="65.5,215.0 71.5,214.2 77.5,211.2 83.5,208.1 89.5,204.9 95.5,201.8 101.5,197.0 107.5,192.1 113.5,186.7 119.5,181.3 125.5,172.5 131.5,163.7 137.5,155.1 143.5,146.8 149.5,140.0 155.5,131.8 161.5,123.5 167.5,115.7 173.5,110.5 179.5,110.4 185.5,110.4 191.5,110.4 197.5,110.3 203.5,108.0 209.5,105.2 215.5,102.1 221.5,99.1 227.5,100.1 233.5,100.1 239.5,102.5 245.5,103.5 251.5,104.2 257.5,104.5 263.5,104.2 269.5,104.2 275.5,103.6 281.5,103.2 287.5,103.4 293.5,103.4 299.5,103.0 305.5,103.0 311.5,103.2 317.5,102.0 323.5,101.7 329.5,101.8 335.5,102.1 341.5,102.2 347.5,102.0 353.5,101.6 359.5,101.6 365.5,100.7 371.5,99.7 377.5,99.8 383.5,98.5 389.5,96.9 395.5,93.1 401.5,90.7 407.5,89.3 413.5,88.9 419.5,88.3 425.5,87.7 431.5,92.9 437.5,100.2 443.5,105.5 449.5,113.0 455.5,118.3 461.5,122.9 467.5,127.7 473.5,131.9 479.5,135.7 485.5,142.6 491.5,146.6 497.5,150.8 503.5,157.1 509.5,161.1 515.5,164.8 521.5,167.0 527.5,169.0 533.5,171.2 539.5,172.0 545.5,173.4 551.5,183.0 557.5,188.6 563.5,194.3 569.5,198.4 575.5,200.3 581.5,199.5 587.5,200.0 593.5,202.2 599.5,202.8 605.5,202.6 611.5,202.5 617.5,202.3 623.5,201.7 629.5,201.0 635.5,200.2 641.5,200.8 647.5,201.9 653.5,205.2 659.5,208.2 665.5,210.6 671.5,211.8 677.5,212.7 683.5,213.2 689.5,213.5 695.5,214.0 701.5,214.3 707.5,209.0 713.5,204.9 719.5,198.1 725.5,191.8 731.5,185.6 737.5,178.3 743.5,174.8 749.5,168.0 755.5,162.7 761.5,161.3 767.5,157.3 773.5,152.6 779.5,151.4 785.5,149.0 791.5,146.4 797.5,146.4 803.5,146.9 809.5,147.0 815.5,146.2 821.5,145.2 827.5,144.8 833.5,144.7 839.5,144.6 845.5,145.3 851.5,150.8 857.5,156.7 863.5,162.7 869.5,165.6 875.5,172.3 881.5,176.2 887.5,179.6 893.5,183.6 899.5,187.0 905.5,191.0 911.5,195.7 917.5,200.0 923.5,203.9 929.5,209.8 935.5,212.0 941.5,214.0 947.5,215.1 953.5,215.1 959.5,215.6 965.5,216.1 971.5,216.0 977.5,214.5 983.5,212.1 989.5,223.8 995.5,229.1 1001.5,238.1 1007.5,243.6 1013.5,249.2 1019.5,255.0 1025.5,267.5 1031.5,280.9 1037.5,293.9 1043.5,305.7 1049.5,312.8 1055.5,320.3 1061.5,327.5 1067.5,334.1 1073.5,338.9 1079.5,341.0 1085.5,344.4 1091.5,347.7 1097.5,349.8 1103.5,350.5 1109.5,348.1 1115.5,345.9 1121.5,343.2 1127.5,341.5 1133.5,339.3 1139.5,328.2 1145.5,327.6 1151.5,326.0 1157.5,325.5 1163.5,322.7 1169.5,320.6 1175.5,320.2 1181.5,328.5 1187.5,336.1 1193.5,351.0 1199.5,369.0 1205.5,378.9 1211.5,386.9 1217.5,394.7 1223.5,405.2 1229.5,421.3 1235.5,439.5 1241.5,462.0 1247.5,483.0 1253.5,502.6 1259.5,515.0 1265.5,524.7 1271.5,537.9 1277.5,544.2 1283.5,548.8 1289.5,554.4 1295.5,555.7 1301.5,554.2 1307.5,551.8 1313.5,548.4 1319.5,543.1 1325.5,537.4 1331.5,532.0 1337.5,527.8 1343.5,522.0 1349.5,520.4 1355.5,520.1 1361.5,516.7 1367.5,511.4 1373.5,505.4 1379.5,500.7 1385.5,500.1 1391.5,500.2 1397.5,497.7 1403.5,493.2 1409.5,486.2 1415.5,484.2 1421.5,483.2 1427.5,474.3 1433.5,476.4 1439.5,476.5 1445.5,476.1 1451.5,475.9 1457.5,476.0 1463.5,480.1 1469.5,482.6 1475.5,482.8 1481.5,482.8 1487.5,482.5 1493.5,482.5 1499.5,482.5 1505.5,481.9 1511.5,481.3 1517.5,482.2 1523.5,485.5 1529.5,486.0 1535.5,486.5 1541.5,493.4" fill="none" stroke="#ff00ff" stroke-width="1"/>
<polyline points="65.5,692.7 71.5,691.8 77.5,693.6 83.5,704.3 89.5,708.5 95.5,711.4 101.5,711.8 107.5,711.8 113.5,712.7 119.5,713.9 125.5,714.2 131.5,715.5 137.5,715.9 143.5,715.9 149.5,716.1 155.5,715.8 161.5,712.6 167.5,710.9 173.5,709.6 179.5,707.7 185.5,705.7 191.5,705.5 197.5,704.8 203.5,704.6 209.5,703.9 215.5,704.0 221.5,707.3 227.5,708.3 233.5,708.5 239.5,710.1 245.5,712.1 251.5,712.5 257.5,712.6 263.5,712.4 269.5,712.9 275.5,713.3 281.5,714.2 287.5,714.7 293.5,715.4 299.5,716.1 305.5,716.3 311.5,716.5 317.5,717.1 323.5,717.0 329.5,716.5 335.5,715.3 341.5,715.4 347.5,716.1 353.5,716.1 359.5,715.5 365.5,715.7 371.5,715.7 377.5,715.9 383.5,716.7 389.5,717.6 395.5,719.2 401.5,719.1 407.5,718.9 413.5,718.7 419.5,718.9 425.5,716.6 431.5,710.0 437.5,708.4 443.5,705.2 449.5,704.1 455.5,702.3 461.5,701.8 467.5,701.1 473.5,701.1 479.5,701.3 485.5,702.7 491.5,708.3 497.5,708.8 503.5,709.6 509.5,710.1 515.5,711.6 521.5,712.0 527.5,712.8 533.5,713.0 539.5,712.0 545.5,712.1 551.5,706.0 557.5,705.0 563.5,706.0 569.5,704.8 575.5,702.9 581.5,702.3 587.5,699.6 593.5,698.3 599.5,698.3 605.5,696.6 611.5,702.4 617.5,703.8 623.5,703.4 629.5,704.6 635.5,706.6 641.5,707.1 647.5,709.0 653.5,708.4 659.5,708.4 665.5,710.6 671.5,711.0 677.5,711.3 683.5,712.5 689.5,713.0 695.5,713.0 701.5,713.0 707.5,713.9 713.5,716.0 719.5,714.4 725.5,713.7 731.5,713.6 737.5,712.2 743.5,710.4 749.5,709.7 755.5,709.2 761.5,709.2 767.5,708.8 773.5,708.8 779.5,711.6 785.5,712.7 791.5,713.1 797.5,714.6 803.5,716.9 809.5,717.1 815.5,717.7 821.5,717.2 827.5,717.3 833.5,717.4 839.5,717.0 845.5,716.3 851.5,713.1 857.5,711.2 863.5,709.9 869.5,708.9 875.5,707.1 881.5,704.6 887.5,703.9 893.5,703.6 899.5,703.2 905.5,703.4 911.5,706.2 917.5,706.8 923.5,706.4 929.5,706.7 935.5,706.6 941.5,709.4 947.5,710.1 953.5,709.2 959.5,708.9 965.5,708.7 971.5,707.4 977.5,706.3 983.5,704.9 989.5,693.4 995.5,691.4 1001.5,687.1 1007.5,685.0 1013.5,684.8 1019.5,684.6 1025.5,679.3 1031.5,673.4 1037.5,674.4 1043.5,675.3 1049.5,685.8 1055.5,688.3 1061.5,691.6 1067.5,693.0 1073.5,693.8 1079.5,691.6 1085.5,696.4 1091.5,703.4 1097.5,702.5 1103.5,703.9 1109.5,704.4 1115.5,705.4 1121.5,706.4 1127.5,706.9 1133.5,702.4 1139.5,699.4 1145.5,698.7 1151.5,698.5 1157.5,700.3 1163.5,700.3 1169.5,700.8 1175.5,699.0 1181.5,693.7 1187.5,692.1 1193.5,690.6 1199.5,691.1 1205.5,689.4 1211.5,689.0 1217.5,688.2 1223.5,688.1 1229.5,686.8 1235.5,686.0 1241.5,686.2 1247.5,686.3 1253.5,690.3 1259.5,694.8 1265.5,697.9 1271.5,696.9 1277.5,687.4 1283.5,682.8 1289.5,681.9 1295.5,682.6 1301.5,687.0 1307.5,688.2 1313.5,689.4 1319.5,689.3 1325.5,688.1 1331.5,689.4 1337.5,699.5 1343.5,702.9 1349.5,704.7 1355.5,706.1 1361.5,706.9 1367.5,707.4 1373.5,707.5 1379.5,708.3 1385.5,709.5 1391.5,710.7 1397.5,710.6 1403.5,710.7 1409.5,711.7 1415.5,711.8 1421.5,711.5 1427.5,709.6 1433.5,708.4 1439.5,706.2 1445.5,706.0 1451.5,704.6 1457.5,704.8 1463.5,701.6 1469.5,700.6 1475.5,699.9 1481.5,699.3 1487.5,700.0 1493.5,702.3 1499.5,704.9 1505.5,704.2 1511.5,704.8 1517.5,703.0 1523.5,703.0 1529.5,701.1 1535.5,700.5 1541.5,695.7" fill="none" stroke="#ffff00" stroke-width="1"/>
<polyline points="65.5,709.2 71.5,709.0 77.5,709.5 83.5,710.6 89.5,712.9 95.5,713.6 101.5,714.6 107.5,714.1 113.5,714.7 119.5,714.9 125.5,714.7 131.5,716.3 137.5,717.6 143.5,717.1 149.5,717.4 155.5,716.9 161.5,708.8 167.5,704.3 173.5,702.2 179.5,697.9 185.5,694.6 191.5,702.2 197.5,705.3 203.5,707.0 209.5,709.9 215.5,713.4 221.5,712.3 227.5,711.3 233.5,710.1 239.5,710.3 245.5,710.8 251.5,712.6 257.5,713.9 263.5,714.7 269.5,715.5 275.5,715.7 281.5,715.8 287.5,715.6 293.5,716.1 299.5,716.7 305.5,716.8 311.5,717.3 317.5,718.6 323.5,718.0 329.5,716.3 335.5,713.7 341.5,713.5 347.5,713.5 353.5,714.1 359.5,714.7 365.5,717.7 371.5,717.9 377.5,718.3 383.5,719.2 389.5,720.5 395.5,720.7 401.5,720.3 407.5,719.5 413.5,718.2 419.5,717.2 425.5,712.5 431.5,699.7 437.5,697.3 443.5,692.3 449.5,691.1 455.5,692.2 461.5,704.0 467.5,705.0 473.5,709.8 479.5,711.5 485.5,713.2 491.5,712.6 497.5,712.6 503.5,709.3 509.5,708.7 515.5,710.0 521.5,711.4 527.5,713.0 533.5,716.6 539.5,715.3 545.5,714.1 551.5,700.6 557.5,697.1 563.5,695.4 569.5,694.4 575.5,691.6 581.5,704.0 587.5,702.2 593.5,701.3 599.5,702.3 605.5,701.7 611.5,700.8 617.5,705.4 623.5,705.5 629.5,707.0 635.5,711.5 641.5,713.4 647.5,712.6 653.5,711.2 659.5,709.9 665.5,709.6 671.5,708.5 677.5,709.9 683.5,713.8 689.5,716.2 695.5,716.4 701.5,717.5 707.5,717.9 713.5,718.1 719.5,712.7 725.5,711.0 731.5,709.7 737.5,706.6 743.5,702.7 749.5,706.8 755.5,707.5 761.5,708.6 767.5,710.9 773.5,714.8 779.5,716.3 785.5,718.0 791.5,717.7 797.5,718.3 803.5,719.0 809.5,718.0 815.5,717.3 821.5,716.7 827.5,716.3 833.5,715.8 839.5,716.1 845.5,715.2 851.5,709.5 857.5,706.1 863.5,703.9 869.5,701.6 875.5,699.0 881.5,699.7 887.5,701.7 893.5,703.2 899.5,704.8 905.5,707.8 911.5,712.7 917.5,711.9 923.5,709.7 929.5,708.6 935.5,705.5 941.5,706.1 947.5,708.3 953.5,708.7 959.5,709.1 965.5,711.8 971.5,708.6 977.5,704.2 983.5,701.0 989.5,677.8 995.5,670.9 1001.5,665.5 1007.5,665.7 1013.5,668.6 1019.5,691.4 1025.5,687.7 1031.5,681.3 1037.5,683.0 1043.5,682.0 1049.5,680.1 1055.5,688.9 1061.5,701.9 1067.5,703.0 1073.5,705.7 1079.5,703.0 1085.5,703.8 1091.5,704.9 1097.5,702.1 1103.5,702.1 1109.5,705.7 1115.5,706.9 1121.5,707.9 1127.5,711.7 1133.5,702.8 1139.5,693.2 1145.5,690.4 1151.5,689.0 1157.5,688.9 1163.5,697.9 1169.5,708.4 1175.5,707.5 1181.5,698.4 1187.5,695.3 1193.5,683.3 1199.5,673.8 1205.5,671.2 1211.5,679.6 1217.5,681.0 1223.5,692.8 1229.5,699.8 1235.5,700.7 1241.5,692.7 1247.5,691.5 1253.5,687.9 1259.5,689.7 1265.5,695.1 1271.5,701.1 1277.5,683.2 1283.5,677.7 1289.5,674.1 1295.5,670.1 1301.5,673.0 1307.5,693.1 1313.5,701.1 1319.5,704.5 1325.5,706.1 1331.5,705.9 1337.5,705.9 1343.5,704.7 1349.5,704.9 1355.5,706.1 1361.5,707.9 1367.5,708.9 1373.5,710.3 1379.5,711.7 1385.5,712.9 1391.5,713.5 1397.5,712.4 1403.5,711.1 1409.5,711.7 1415.5,710.6 1421.5,709.4 1427.5,706.8 1433.5,705.6 1439.5,700.7 1445.5,701.3 1451.5,699.7 1457.5,702.9 1463.5,697.6 1469.5,700.4 1475.5,698.6 1481.5,699.0 1487.5,697.2 1493.5,707.0 1499.5,709.4 1505.5,709.8 1511.5,710.6 1517.5,708.7 1523.5,698.9 1529.5,692.9 1535.5,691.1 1541.5,680.7" fill="none" stroke="#ffffff" stroke-width="1"/>
<polyline points="65.5,748.6 71.5,746.7 77.5,747.6 83.5,747.1 89.5,747.4 95.5,747.4 101.5,746.3 107.5,748.6 113.5,750.9 119.5,753.4 125.5,755.0 131.5,755.0 137.5,755.6 143.5,758.3 149.5,760.0 155.5,760.1 161.5,764.9 167.5,767.3 173.5,767.1 179.5,764.8 185.5,765.9 191.5,765.4 197.5,765.5 203.5,766.8 209.5,766.5 215.5,766.7 221.5,771.4 227.5,778.8 233.5,784.9 239.5,791.5 245.5,795.1 251.5,797.2 257.5,797.1 263.5,797.1 269.5,798.0 275.5,796.2 281.5,794.8 287.5,791.2 293.5,790.2 299.5,790.4 305.5,791.5 311.5,792.5 317.5,791.7 323.5,792.8 329.5,792.9 335.5,795.7 341.5,796.2 347.5,795.8 353.5,794.7 359.5,795.5 365.5,795.4 371.5,796.3 377.5,797.8 383.5,799.1 389.5,798.4 395.5,797.8 401.5,797.5 407.5,795.5 413.5,796.6 419.5,796.6 425.5,794.1 431.5,800.7 437.5,808.4 443.5,814.4 449.5,821.4 455.5,825.9 461.5,829.0 467.5,832.1 473.5,834.1 479.5,835.3 485.5,840.0 491.5,840.8 497.5,841.7 503.5,845.4 509.5,846.1 515.5,846.1 521.5,843.9 527.5,841.7 533.5,840.3 539.5,836.3 545.5,836.1 551.5,846.5 557.5,851.6 563.5,857.6 569.5,859.9 575.5,860.2 581.5,860.6 587.5,856.0 593.5,854.3 599.5,849.8 605.5,841.5 611.5,837.1 617.5,833.2 623.5,824.7 629.5,819.4 635.5,815.1 641.5,808.2 647.5,800.1 653.5,789.6 659.5,780.6 665.5,773.8 671.5,770.4 677.5,769.0 683.5,769.1 689.5,769.5 695.5,769.3 701.5,768.7 707.5,769.5 713.5,769.5 719.5,775.0 725.5,777.1 731.5,779.0 737.5,784.9 743.5,791.4 749.5,795.0 755.5,796.9 761.5,800.2 767.5,802.0 773.5,802.4 779.5,802.0 785.5,801.6 791.5,801.2 797.5,801.8 803.5,801.4 809.5,801.1 815.5,799.1 821.5,798.5 827.5,798.0 833.5,798.5 839.5,798.0 845.5,800.2 851.5,807.9 857.5,815.5 863.5,822.2 869.5,825.4 875.5,831.1 881.5,833.5 887.5,835.0 893.5,836.6 899.5,837.5 905.5,838.6 911.5,840.7 917.5,841.9 923.5,842.4 929.5,845.7 935.5,843.5 941.5,841.3 947.5,838.3 953.5,832.1 959.5,830.2 965.5,829.3 971.5,830.0 977.5,827.6 983.5,825.4 989.5,839.5 995.5,847.6 1001.5,856.8 1007.5,859.1 1013.5,861.1 1019.5,862.8 1025.5,871.9 1031.5,880.7 1037.5,888.5 1043.5,894.3 1049.5,893.7 1055.5,893.8 1061.5,893.6 1067.5,892.4 1073.5,888.8 1079.5,880.7 1085.5,875.9 1091.5,873.9 1097.5,870.7 1103.5,866.5 1109.5,861.6 1115.5,856.2 1121.5,852.2 1127.5,851.8 1133.5,856.9 1139.5,848.4 1145.5,840.3 1151.5,836.1 1157.5,832.4 1163.5,830.8 1169.5,832.6 1175.5,837.0 1181.5,845.2 1187.5,851.9 1193.5,864.2 1199.5,878.2 1205.5,883.1 1211.5,885.3 1217.5,886.8 1223.5,891.3 1229.5,901.4 1235.5,913.2 1241.5,927.9 1247.5,939.7 1253.5,949.1 1259.5,948.8 1265.5,945.2 1271.5,948.3 1277.5,940.6 1283.5,930.5 1289.5,922.7 1295.5,914.4 1301.5,904.9 1307.5,895.4 1313.5,889.5 1319.5,882.1 1325.5,874.5 1331.5,869.4 1337.5,863.8 1343.5,856.2 1349.5,853.8 1355.5,851.3 1361.5,847.1 1367.5,844.1 1373.5,844.6 1379.5,843.7 1385.5,842.5 1391.5,840.2 1397.5,838.0 1403.5,834.1 1409.5,828.1 1415.5,825.7 1421.5,823.5 1427.5,825.8 1433.5,828.1 1439.5,822.8 1445.5,818.4 1451.5,815.6 1457.5,812.4 1463.5,803.0 1469.5,795.6 1475.5,794.1 1481.5,794.6 1487.5,796.0 1493.5,795.4 1499.5,795.1 1505.5,796.5 1511.5,796.0 1517.5,800.7 1523.5,808.7 1529.5,813.1 1535.5,815.6 1541.5,825.0" fill="none" stroke="#ffffff" stroke-width="1"/>
<polyline points="65.5,754.2 71.5,752.7 77.5,751.7 83.5,750.8 89.5,750.1 95.5,749.6 101.5,748.9 107.5,748.8 113.5,749.3 119.5,750.1 125.5,751.1 131.5,751.9 137.5,752.6 143.5,753.7 149.5,755.0 155.5,756.0 161.5,757.8 167.5,759.7 173.5,761.2 179.5,761.9 185.5,762.7 191.5,763.2 197.5,763.7 203.5,764.3 209.5,764.8 215.5,765.1 221.5,766.4 227.5,768.9 233.5,772.1 239.5,776.0 245.5,779.8 251.5,783.3 257.5,786.1 263.5,788.3 269.5,790.2 275.5,791.4 281.5,792.1 287.5,791.9 293.5,791.6 299.5,791.3 305.5,791.4 311.5,791.6 317.5,791.6 323.5,791.9 329.5,792.1 335.5,792.8 341.5,793.5 347.5,793.9 353.5,794.1 359.5,794.4 365.5,794.6 371.5,794.9 377.5,795.5 383.5,796.2 389.5,796.6 395.5,796.9 401.5,797.0 407.5,796.7 413.5,796.7 419.5,796.7 425.5,796.1 431.5,797.1 437.5,799.3 443.5,802.3 449.5,806.2 455.5,810.1 461.5,813.9 467.5,817.5 473.5,820.8 479.5,823.7 485.5,827.0 491.5,829.7 497.5,832.1 503.5,834.8 509.5,837.1 515.5,838.9 521.5,839.9 527.5,840.2 533.5,840.3 539.5,839.5 545.5,838.8 551.5,840.3 557.5,842.6 563.5,845.6 569.5,848.4 575.5,850.8 581.5,852.8 587.5,853.4 593.5,853.6 599.5,852.8 605.5,850.6 611.5,847.9 617.5,844.9 623.5,840.9 629.5,836.6 635.5,832.3 641.5,827.5 647.5,822.0 653.5,815.5 659.5,808.5 665.5,801.6 671.5,795.3 677.5,790.1 683.5,785.9 689.5,782.6 695.5,779.9 701.5,777.7 707.5,776.1 713.5,774.7 719.5,774.8 725.5,775.3 731.5,776.0 737.5,777.8 743.5,780.5 749.5,783.4 755.5,786.1 761.5,788.9 767.5,791.5 773.5,793.7 779.5,795.4 785.5,796.6 791.5,797.5 797.5,798.4 803.5,799.0 809.5,799.4 815.5,799.4 821.5,799.2 827.5,798.9 833.5,798.9 839.5,798.7 845.5,799.0 851.5,800.8 857.5,803.7 863.5,807.4 869.5,811.0 875.5,815.0 881.5,818.7 887.5,822.0 893.5,824.9 899.5,827.4 905.5,829.6 911.5,831.9 917.5,833.9 923.5,835.6 929.5,837.6 935.5,838.8 941.5,839.3 947.5,839.1 953.5,837.7 959.5,836.2 965.5,834.8 971.5,833.8 977.5,832.6 983.5,831.2 989.5,832.8 995.5,835.8 1001.5,840.0 1007.5,843.8 1013.5,847.2 1019.5,850.4 1025.5,854.7 1031.5,859.9 1037.5,865.6 1043.5,871.3 1049.5,875.8 1055.5,879.4 1061.5,882.2 1067.5,884.3 1073.5,885.2 1079.5,884.3 1085.5,882.6 1091.5,880.9 1097.5,878.8 1103.5,876.4 1109.5,873.4 1115.5,870.0 1121.5,866.4 1127.5,863.5 1133.5,862.2 1139.5,859.4 1145.5,855.6 1151.5,851.7 1157.5,847.8 1163.5,844.4 1169.5,842.1 1175.5,841.1 1181.5,841.9 1187.5,843.9 1193.5,847.9 1199.5,854.0 1205.5,859.8 1211.5,864.9 1217.5,869.3 1223.5,873.7 1229.5,879.2 1235.5,886.0 1241.5,894.4 1247.5,903.5 1253.5,912.6 1259.5,919.8 1265.5,924.9 1271.5,929.6 1277.5,931.8 1283.5,931.5 1289.5,929.8 1295.5,926.7 1301.5,922.4 1307.5,917.0 1313.5,911.5 1319.5,905.6 1325.5,899.4 1331.5,893.4 1337.5,887.5 1343.5,881.2 1349.5,875.7 1355.5,870.8 1361.5,866.1 1367.5,861.7 1373.5,858.3 1379.5,855.4 1385.5,852.8 1391.5,850.3 1397.5,847.8 1403.5,845.1 1409.5,841.7 1415.5,838.5 1421.5,835.5 1427.5,833.5 1433.5,832.5 1439.5,830.5 1445.5,828.1 1451.5,825.6 1457.5,823.0 1463.5,819.0 1469.5,814.3 1475.5,810.3 1481.5,807.1 1487.5,804.9 1493.5,803.0 1499.5,801.4 1505.5,800.4 1511.5,799.6 1517.5,799.8 1523.5,801.6 1529.5,803.9 1535.5,806.2 1541.5,810.0" fill="none" stroke="#ffff00" stroke-width="1"/>
</g>
<!-- frame -->
<rect x="0" y="0" width="1" height="965" fill="#d8d4d4"/>
<rect x="1" y="16" width="1658" height="1" fill="#d01810"/>
<rect x="62" y="16" width="1" height="949" fill="#d01810"/>
<rect x="1" y="577" width="1658" height="1" fill="#d01810"/>
<rect x="1" y="726" width="1658" height="1" fill="#d01810"/>
<rect x="1" y="951" width="1658" height="1" fill="#d01810"/>
<rect x="1.5" y="727.5" width="60" height="223" fill="none" stroke="#d01810" stroke-width="1"/>
<rect x="1658" y="0" width="1" height="965" fill="#d01810"/>
<rect x="1899" y="0" width="2" height="965" fill="#d4c8c8"/>
<!-- right panel -->
<rect x="1659" y="22" width="240" height="6" fill="#d01810"/>
<rect x="1659" y="23" width="5" height="4" fill="#ff3c3c"/>
<rect x="1664" y="23" width="234" height="4" fill="#00e600"/>
<rect x="1659" y="58" width="240" height="1" fill="#d01810"/>
<rect x="1659" y="89" width="240" height="1" fill="#d01810"/>
<rect x="1659" y="250" width="240" height="1" fill="#d01810"/>
</svg>

<div class="abs" style="left:2px;top:1px;font-size:12px;line-height:15px;color:#fff;">沪铜主力 <span style="letter-spacing:-0.42px">(010090)</span><span style="letter-spacing:-0.8px;margin-left:2.5px">&lt;5分&gt;</span></div>
<div class="ind" id="ind1" style="top:19px"><span style="letter-spacing:0.311px;">K  BOLL(26,2) </span><span class="w" style="letter-spacing:0.235px;">MID:48223 </span><span class="y" style="letter-spacing:-0.216px;">UPPER:48324 </span><span style="letter-spacing:-0.193px;color:#ff00ff">LOWER:48122</span></div>
<div class="ind" id="ind2" style="top:580px"><span style="letter-spacing:0.212px;">VOL(5,10) VOLUME:7850.0000 </span><span class="w" style="letter-spacing:0.230px;">MAVOL1:5200.8000 </span><span class="y" style="letter-spacing:0.121px;">MAVOL2:3406.2000</span></div>
<div class="ind" id="ind3" style="top:729px"><span style="letter-spacing:0.271px;">MACD(12,26,9) </span><span class="w" style="letter-spacing:0.129px;">DIFF:-23.0534 </span><span class="y" style="letter-spacing:0.138px;">DEA:-8.9135 </span><span style="letter-spacing:-0.135px;">MACD:-28.2797</span></div>

<div class="ax" style="top:70px">49200</div>
<div class="ax" style="top:148px">49000</div>
<div class="ax" style="top:225px">48800</div>
<div class="ax" style="top:303px">48600</div>
<div class="ax" style="top:380px">48400</div>
<div class="ax" style="top:457px">48200</div>
<div class="ax" style="top:535px">48000</div>
<div class="ax" style="top:618px">12000</div>
<div class="ax" style="top:668px">6000</div>
<div class="ax" style="top:751px">40</div>
<div class="ax" style="top:794px">0</div>
<div class="ax" style="top:836px">-40</div>
<div class="ax" style="top:879px">-80</div>
<div class="ax" style="top:921px">-120</div>

<div class="abs" style="left:137px;top:47px;font-size:12.3px;line-height:14px;font-weight:bold;color:#c8c8c8;">49260</div>
<div class="abs" style="left:1229px;top:515px;font-size:12.3px;line-height:14px;font-weight:bold;color:#c8c8c8;">48050</div>

<div class="abs" style="left:0;width:57px;text-align:right;top:953px;font-size:11px;line-height:13px;color:#fff;">5分</div>
<div class="abs" style="left:64px;top:953px;font-size:11px;line-height:13px;color:#fff;">1214</div>
<div class="abs" style="left:155px;top:953px;font-size:11px;line-height:13px;color:#fff;">17</div>
<div class="abs" style="left:635px;top:953px;font-size:11px;line-height:13px;color:#fff;">18</div>
<div class="abs" style="left:1193px;top:953px;font-size:11px;line-height:13px;color:#fff;">19</div>

<div class="abs" style="left:1494px;top:0px;font-size:12px;line-height:15px;color:#80c0ff;text-decoration:underline;">商品叠加</div>
<div class="abs" style="left:1562px;top:0px;font-size:12px;line-height:15px;color:#80c0ff;text-decoration:underline;">周期</div>

<div class="abs" id="ttl" style="left:1694px;top:-2px;font-size:20px;line-height:26px;color:#f0f000;font-family:'Liberation Serif','Noto Serif CJK SC',serif;font-weight:400;">沪铜主力<span style="font-weight:400;display:inline-block;width:10px;text-align:center">(</span><span style="font-weight:400;letter-spacing:-0.3px">010090</span><span style="font-weight:400;display:inline-block;width:10px;text-align:center">)</span></div>

<div class="abs" style="left:1663px;top:33px;font-size:14px;line-height:20px;">卖出</div>
<div class="abs g" style="left:1712px;top:31px;font-size:21.4px;line-height:24px;font-weight:bold;">48100</div>
<div class="abs y" style="left:1786px;top:31px;font-size:21.4px;line-height:24px;font-weight:bold;">47</div>
<div class="abs" style="left:1663px;top:64px;font-size:14px;line-height:20px;">买入</div>
<div class="abs g" style="left:1712px;top:62px;font-size:21.4px;line-height:24px;font-weight:bold;">48090</div>
<div class="abs y" style="left:1786px;top:62px;font-size:21.4px;line-height:24px;font-weight:bold;">1</div>
<div class="qr" style="top:90px"><span class="l1">最新</span><span class="v1 g">48090</span><span class="l2">结算</span><span class="v2 g">48400</span></div>
<div class="qr" style="top:110px"><span class="l1">涨跌</span><span class="v1 g">-910</span><span class="l2">昨结</span><span class="v2 w">49000</span></div>
<div class="qr" style="top:130px"><span class="l1">幅度</span><span class="v1 g">-1.86%</span><span class="l2">开盘</span><span class="v2 g">48730</span></div>
<div class="qr" style="top:150px"><span class="l1">总手</span><span class="v1 y">311126</span><span class="l2">最高</span><span class="v2 g">48800</span></div>
<div class="qr" style="top:170px"><span class="l1">现手</span><span class="v1 y">28</span><span class="l2">最低</span><span class="v2 g">48010</span></div>
<div class="qr" style="top:190px"><span class="l1">涨停</span><span class="v1 r">51450</span><span class="l2">跌停</span><span class="v2 g">46550</span></div>
<div class="qr" style="top:210px"><span class="l1">持仓</span><span class="v1 y">206050</span><span class="l2">仓差</span><span class="v2 y">26964</span></div>
<div class="qr" style="top:230px"><span class="l1">外盘</span><span class="v1 r">145933</span><span class="l2">内盘</span><span class="v2 g">165193</span></div>
<div class="tr hd" style="top:252px"><span style="left:4px">北京</span><span style="right:138px">价格</span><span style="right:90px">现手</span><span style="right:42px">仓差</span><span style="left:208px">性质</span></div>
<div class="tr" style="top:273px"><span class="tb">14:59</span><span class="pp g">48100</span><span class="vv g">40</span><span class="dd y">+34</span><span class="qq g">空开</span></div>
<div class="tr" style="top:295px"><span class="ts">:45</span><span class="pp g">48110</span><span class="vv g">102</span><span class="dd y">+56</span><span class="qq g">空开</span></div>
<div class="tr" style="top:317px"><span class="ts">:46</span><span class="pp g">48110</span><span class="vv r">12</span><span class="dd y">+4</span><span class="qq r">多开</span></div>
<div class="tr" style="top:339px"><span class="ts">:46</span><span class="pp g">48100</span><span class="vv g">152</span><span class="dd y">+144</span><span class="qq g">空开</span></div>
<div class="tr" style="top:361px"><span class="ts">:47</span><span class="pp g">48100</span><span class="vv g">106</span><span class="dd y">+66</span><span class="qq g">空开</span></div>
<div class="tr" style="top:383px"><span class="ts">:47</span><span class="pp g">48090</span><span class="vv g">48</span><span class="dd y">+26</span><span class="qq g">空开</span></div>
<div class="tr" style="top:405px"><span class="ts">:48</span><span class="pp g">48090</span><span class="vv g">40</span><span class="dd y">+28</span><span class="qq g">空开</span></div>
<div class="tr" style="top:427px"><span class="ts">:48</span><span class="pp g">48100</span><span class="vv r">36</span><span class="dd y">-2</span><span class="qq r">空平</span></div>
<div class="tr" style="top:449px"><span class="ts">:49</span><span class="pp g">48080</span><span class="vv g">82</span><span class="dd y">+36</span><span class="qq g">空开</span></div>
<div class="tr" style="top:471px"><span class="ts">:49</span><span class="pp g">48100</span><span class="vv r">16</span><span class="dd y">+0</span><span class="qq r">多换</span></div>
<div class="tr" style="top:493px"><span class="ts">:50</span><span class="pp g">48090</span><span class="vv g">22</span><span class="dd y">-4</span><span class="qq g">多平</span></div>
<div class="tr" style="top:515px"><span class="ts">:50</span><span class="pp g">48080</span><span class="vv g">22</span><span class="dd y">+2</span><span class="qq g">空开</span></div>
<div class="tr" style="top:537px"><span class="ts">:51</span><span class="pp g">48080</span><span class="vv g">18</span><span class="dd y">+10</span><span class="qq g">空开</span></div>
<div class="tr" style="top:559px"><span class="ts">:51</span><span class="pp g">48080</span><span class="vv g">86</span><span class="dd y">+28</span><span class="qq g">空开</span></div>
<div class="tr" style="top:581px"><span class="ts">:52</span><span class="pp g">48090</span><span class="vv r">8</span><span class="dd y">+0</span><span class="qq r">多换</span></div>
<div class="tr" style="top:603px"><span class="ts">:52</span><span class="pp g">48100</span><span class="vv r">44</span><span class="dd y">+6</span><span class="qq r">多开</span></div>
<div class="tr" style="top:625px"><span class="ts">:53</span><span class="pp g">48100</span><span class="vv g">62</span><span class="dd y">+24</span><span class="qq g">空开</span></div>
<div class="tr" style="top:647px"><span class="ts">:54</span><span class="pp g">48100</span><span class="vv g">38</span><span class="dd y">-6</span><span class="qq g">多平</span></div>
<div class="tr" style="top:669px"><span class="ts">:54</span><span class="pp g">48110</span><span class="vv r">24</span><span class="dd y">-4</span><span class="qq r">空平</span></div>
<div class="tr" style="top:691px"><span class="ts">:55</span><span class="pp g">48100</span><span class="vv g">62</span><span class="dd y">+16</span><span class="qq g">空开</span></div>
<div class="tr" style="top:713px"><span class="ts">:55</span><span class="pp g">48090</span><span class="vv g">22</span><span class="dd y">+10</span><span class="qq g">空开</span></div>
<div class="tr" style="top:735px"><span class="ts">:56</span><span class="pp g">48120</span><span class="vv r">26</span><span class="dd y">+6</span><span class="qq r">多开</span></div>
<div class="tr" style="top:757px"><span class="ts">:56</span><span class="pp g">48100</span><span class="vv g">50</span><span class="dd y">+0</span><span class="qq g">空换</span></div>
<div class="tr" style="top:779px"><span class="ts">:57</span><span class="pp g">48100</span><span class="vv g">80</span><span class="dd y">-10</span><span class="qq g">多平</span></div>
<div class="tr" style="top:801px"><span class="ts">:57</span><span class="pp g">48100</span><span class="vv r">46</span><span class="dd y">+30</span><span class="qq r">多开</span></div>
<div class="tr" style="top:823px"><span class="ts">:58</span><span class="pp g">48100</span><span class="vv r">10</span><span class="dd y">+0</span><span class="qq r">多换</span></div>
<div class="tr" style="top:845px"><span class="ts">:58</span><span class="pp g">48080</span><span class="vv g">16</span><span class="dd y">-4</span><span class="qq g">多平</span></div>
<div class="tr" style="top:867px"><span class="ts">:59</span><span class="pp g">48100</span><span class="vv r">6</span><span class="dd y">+0</span><span class="qq r">多换</span></div>
<div class="tr" style="top:889px"><span class="ts">:59</span><span class="pp g">48090</span><span class="vv r">4</span><span class="dd y">+4</span><span class="qq r">双开</span></div>
<div class="tr" style="top:911px"><span class="tb">15:00</span><span class="pp g">48090</span><span class="vv g">28</span><span class="dd y">+2</span><span class="qq g">空开</span></div>
<div class="abs" style="left:1669px;top:951px;font-size:14px;line-height:16px;color:#fff;">笔</div>
<svg width="1901" height="965" viewBox="0 0 1901 965" shape-rendering="crispEdges" style="pointer-events:none">
<path d="M1695.5 965V953.5Q1695.5 951.5 1697.5 951.5H1899" shape-rendering="auto" fill="none" stroke="#d01810" stroke-width="1"/>
<!-- top icons -->
<g fill="none" stroke="#80c0ff" stroke-width="1">
<path d="M1607.5 0V12.5H1622.5V0 M1624.5 0V12.5H1639.5V0 M1641.5 0V12.5H1656.5V0"/>
<path d="M1609.500 5.500L1613.500 1.500V3.500H1620.500V7.500H1613.500V9.500Z" shape-rendering="auto"/>
<path d="M1637.500 5.500L1633.500 1.500V3.500H1626.500V7.500H1633.500V9.500Z" shape-rendering="auto"/>
<path d="M1642 7.500H1651 M1651.500 0V12 M1653 2.500h2 M1653 4.500h2 M1653 6.500h2 M1653 8.500h2"/>
<path d="M1882.500 0V12.500H1897.500V0"/>
<path d="M1885.500 1.500H1894.500V9.500H1885.500Z M1886 2.500H1894"/>
</g>
<g stroke="#c8c8c8" stroke-width="1" fill="none">
<path d="M174 53.500H184 M181.500 50.500l3 3l-3 3" shape-rendering="auto"/>
<path d="M1266 522.500H1276 M1273.500 519.500l3 3l-3 3" shape-rendering="auto"/>
</g>
</svg>
<div class="abs" style="left:1741px;top:929px;font-size:20px;line-height:25px;font-weight:900;transform-origin:0 100%;transform:scaleX(1.48) skewX(-14deg);letter-spacing:0px;"><span style="color:#6e1408">中亿</span><span style="color:#2c2c2c">财经网</span></div>
<div class="abs" style="left:1747px;top:950px;font-size:10px;line-height:12px;font-style:italic;color:#3a3a3a;letter-spacing:1.33px;">www.zhongyi9999.com</div>
</body></html>
